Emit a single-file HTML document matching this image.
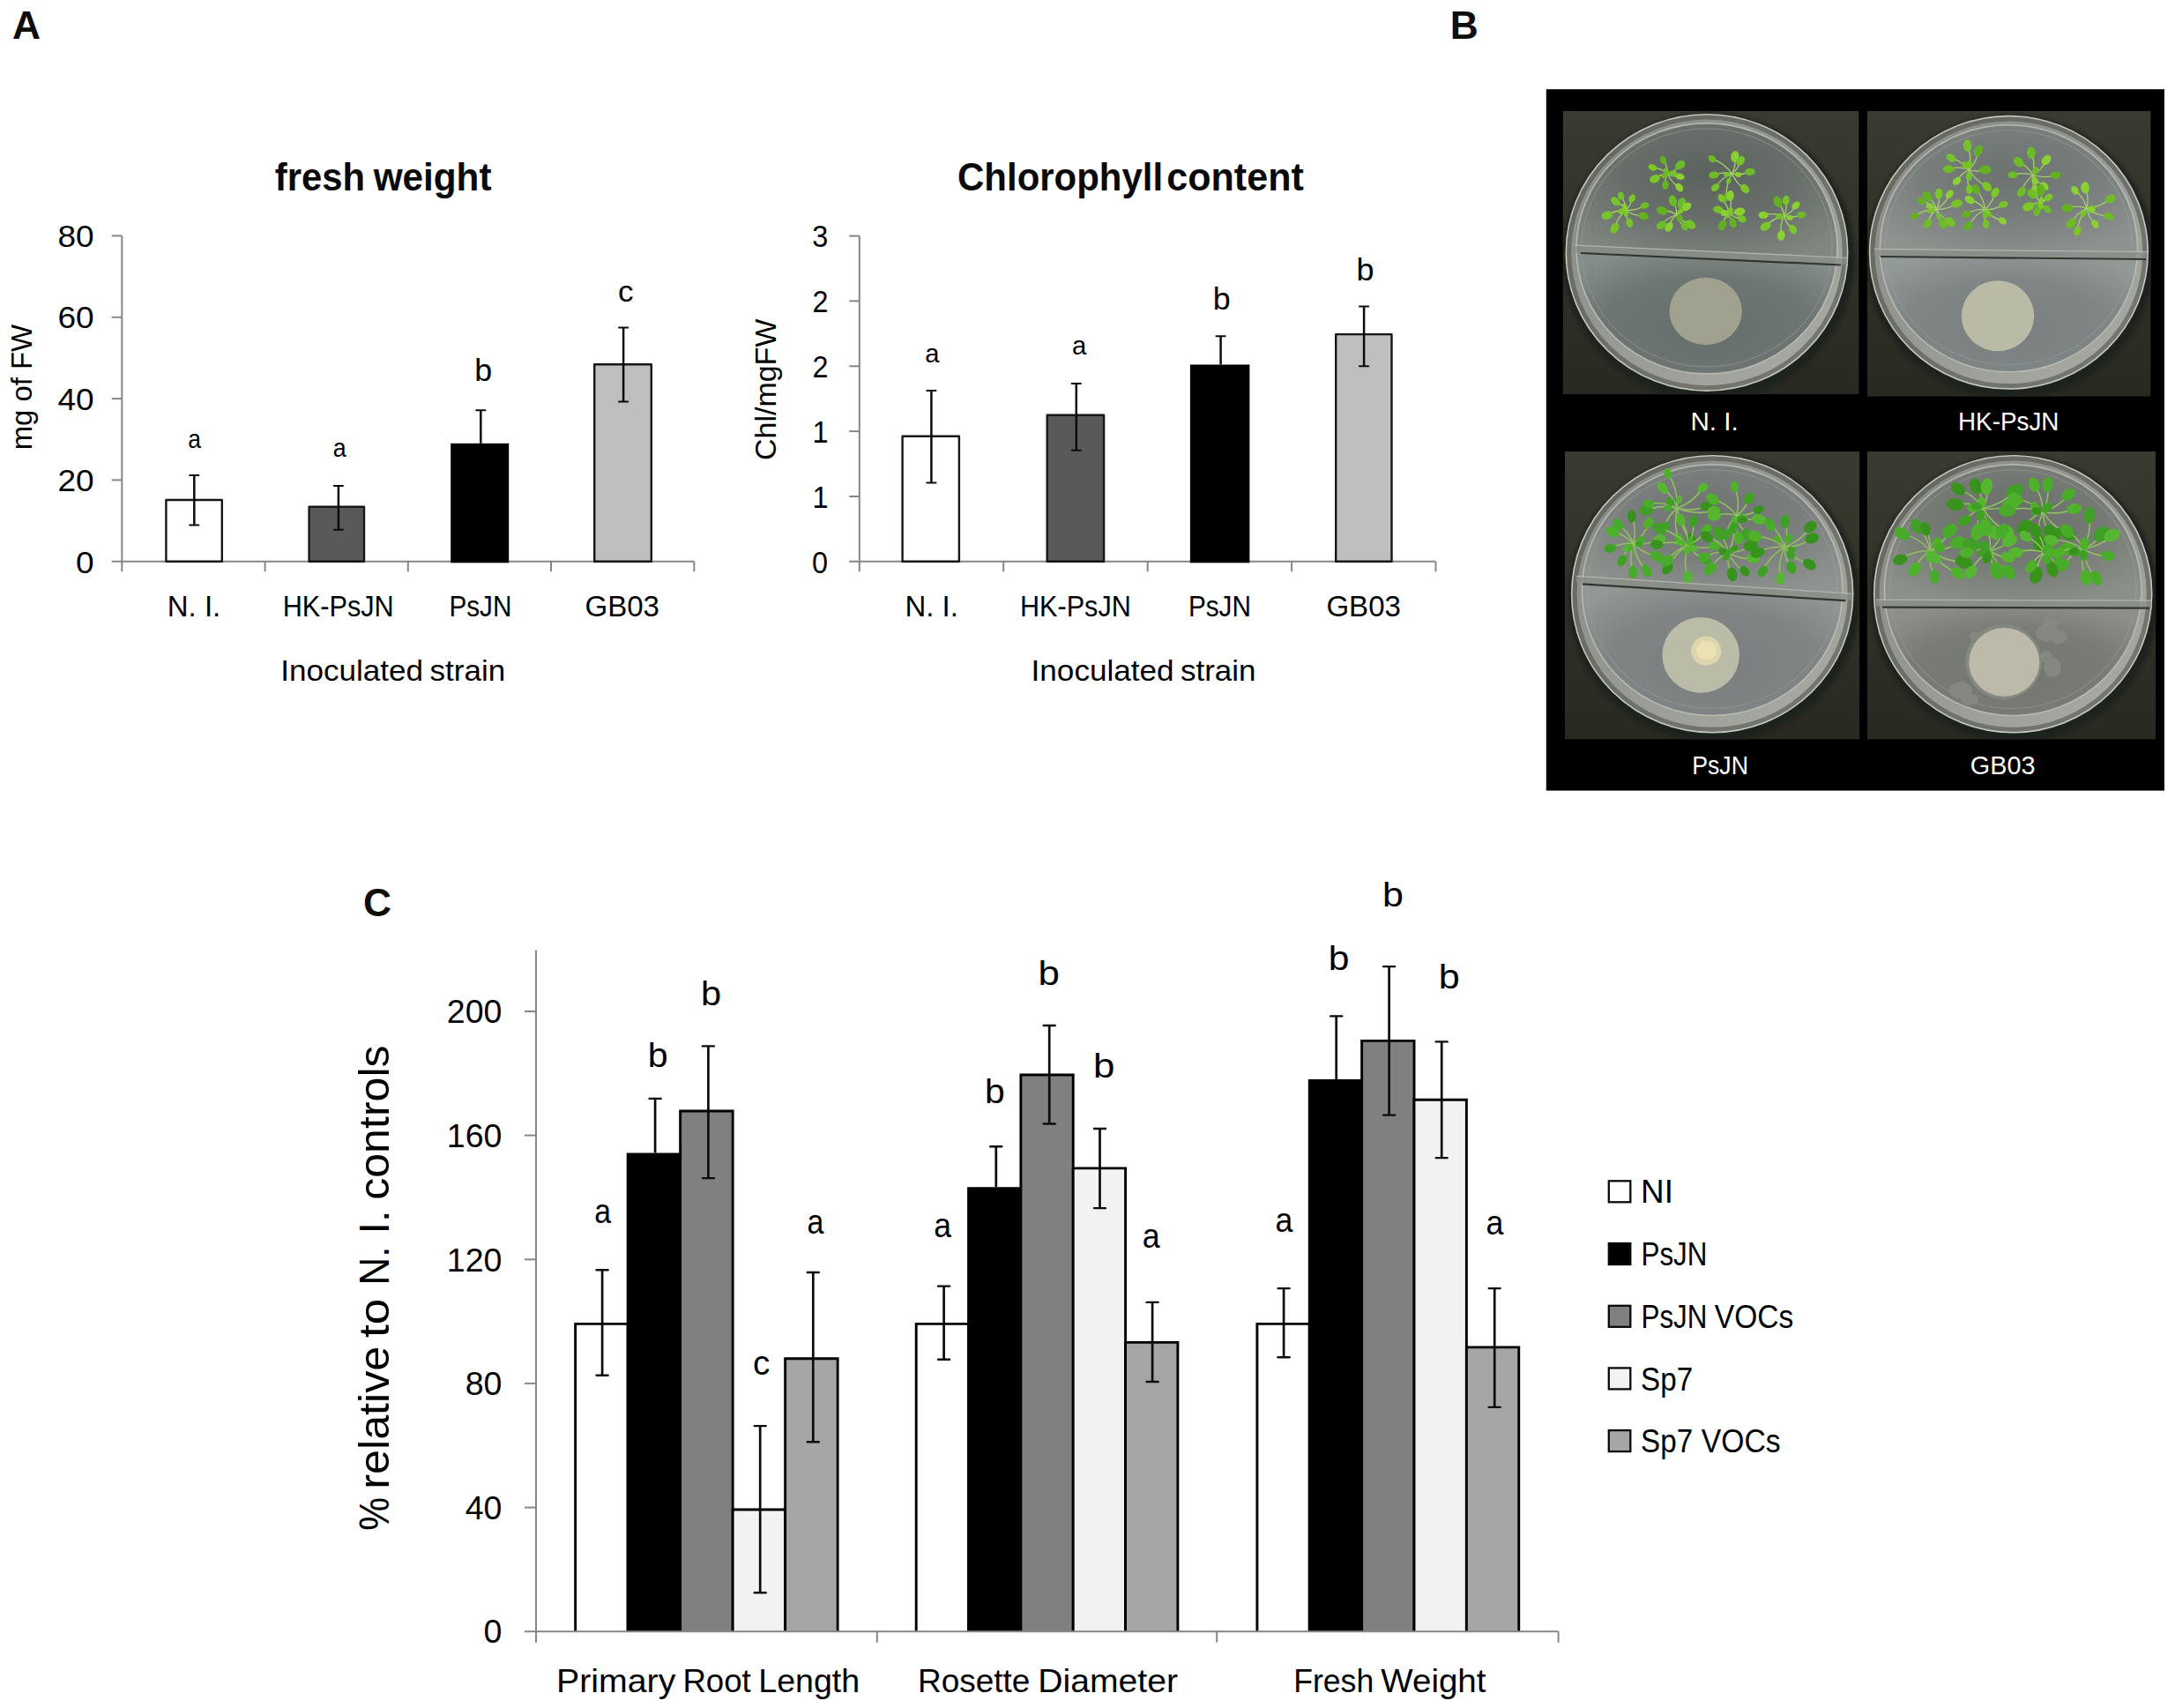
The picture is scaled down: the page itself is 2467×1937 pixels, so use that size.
<!DOCTYPE html>
<html lang="en">
<head>
<meta charset="utf-8">
<title>Figure: plant growth promotion by bacterial volatiles</title>
<style>
html,body{margin:0;padding:0;background:#fff;}
body{width:2467px;height:1937px;overflow:hidden;}
svg{display:block;font-family:'Liberation Sans', sans-serif;}
</style>
</head>
<body>
<svg width="2467" height="1937" viewBox="0 0 2467 1937" font-family='"Liberation Sans", sans-serif'>
<rect width="2467" height="1937" fill="#fff"/>
<text x="13.9" y="43.9" font-size="44.3" font-weight="bold" fill="#100e08" >A</text>
<text x="1644.8" y="43.9" font-size="44.3" font-weight="bold" fill="#100e08" >B</text>
<text x="411.9" y="1038.6" font-size="44.3" font-weight="bold" fill="#100e08" >C</text>
<line x1="138.3" y1="267.4" x2="138.3" y2="648.3" stroke="#868686" stroke-width="2" />
<line x1="126.8" y1="636.8" x2="787.3" y2="636.8" stroke="#868686" stroke-width="2" />
<line x1="126.8" y1="544.4" x2="138.3" y2="544.4" stroke="#868686" stroke-width="2" />
<line x1="126.8" y1="452.1" x2="138.3" y2="452.1" stroke="#868686" stroke-width="2" />
<line x1="126.8" y1="359.8" x2="138.3" y2="359.8" stroke="#868686" stroke-width="2" />
<line x1="126.8" y1="267.4" x2="138.3" y2="267.4" stroke="#868686" stroke-width="2" />
<text x="86.0" y="649.5" font-size="34.8" textLength="20.6" lengthAdjust="spacingAndGlyphs" >0</text>
<text x="65.4" y="557.1" font-size="34.8" textLength="41.2" lengthAdjust="spacingAndGlyphs" >20</text>
<text x="65.4" y="464.8" font-size="34.8" textLength="41.2" lengthAdjust="spacingAndGlyphs" >40</text>
<text x="65.4" y="372.4" font-size="34.8" textLength="41.2" lengthAdjust="spacingAndGlyphs" >60</text>
<text x="65.4" y="280.1" font-size="34.8" textLength="41.2" lengthAdjust="spacingAndGlyphs" >80</text>
<line x1="300.6" y1="636.8" x2="300.6" y2="648.3" stroke="#868686" stroke-width="2" />
<line x1="462.8" y1="636.8" x2="462.8" y2="648.3" stroke="#868686" stroke-width="2" />
<line x1="625.0" y1="636.8" x2="625.0" y2="648.3" stroke="#868686" stroke-width="2" />
<line x1="787.3" y1="636.8" x2="787.3" y2="648.3" stroke="#868686" stroke-width="2" />
<rect x="188.4" y="567.0" width="63.4" height="69.8" fill="#fff" stroke="#161616" stroke-width="2.4" stroke-linejoin="round"/>
<line x1="220.3" y1="539.0" x2="220.3" y2="595.4" stroke="#0c0c0c" stroke-width="2.5" />
<line x1="215.2" y1="539.0" x2="225.4" y2="539.0" stroke="#0c0c0c" stroke-width="2.0" stroke-linecap="round"/>
<line x1="215.2" y1="595.4" x2="225.4" y2="595.4" stroke="#0c0c0c" stroke-width="2.0" stroke-linecap="round"/>
<rect x="350.6" y="574.7" width="62.4" height="62.1" fill="#595959" stroke="#161616" stroke-width="2.4" stroke-linejoin="round"/>
<line x1="383.9" y1="551.0" x2="383.9" y2="600.8" stroke="#0c0c0c" stroke-width="2.5" />
<line x1="378.8" y1="551.0" x2="389.0" y2="551.0" stroke="#0c0c0c" stroke-width="2.0" stroke-linecap="round"/>
<line x1="378.8" y1="600.8" x2="389.0" y2="600.8" stroke="#0c0c0c" stroke-width="2.0" stroke-linecap="round"/>
<rect x="511.2" y="502.8" width="66.0" height="135.5" fill="#000"/>
<line x1="545.3" y1="465.2" x2="545.3" y2="502.8" stroke="#0c0c0c" stroke-width="2.5" />
<line x1="540.2" y1="465.2" x2="550.4" y2="465.2" stroke="#0c0c0c" stroke-width="2.0" stroke-linecap="round"/>
<rect x="674.2" y="413.2" width="64.6" height="223.6" fill="#bfbfbf" stroke="#161616" stroke-width="2.4" stroke-linejoin="round"/>
<line x1="707.1" y1="371.4" x2="707.1" y2="455.4" stroke="#0c0c0c" stroke-width="2.5" />
<line x1="702.0" y1="371.4" x2="712.2" y2="371.4" stroke="#0c0c0c" stroke-width="2.0" stroke-linecap="round"/>
<line x1="702.0" y1="455.4" x2="712.2" y2="455.4" stroke="#0c0c0c" stroke-width="2.0" stroke-linecap="round"/>
<text x="213.2" y="507.9" font-size="28.6" textLength="14.7" lengthAdjust="spacingAndGlyphs" >a</text>
<text x="377.8" y="518.4" font-size="28.6" textLength="14.9" lengthAdjust="spacingAndGlyphs" >a</text>
<text x="538.3" y="432.2" font-size="35.0" textLength="19.9" lengthAdjust="spacingAndGlyphs" >b</text>
<text x="701.0" y="341.6" font-size="34.0" textLength="17.6" lengthAdjust="spacingAndGlyphs" >c</text>
<text x="189.8" y="698.6" font-size="33" textLength="60.5" lengthAdjust="spacingAndGlyphs" >N. I.</text>
<text x="320.7" y="698.6" font-size="33" textLength="126.0" lengthAdjust="spacingAndGlyphs" >HK-PsJN</text>
<text x="509.5" y="698.6" font-size="33" textLength="70.8" lengthAdjust="spacingAndGlyphs" >PsJN</text>
<text x="663.5" y="698.6" font-size="33" textLength="84.5" lengthAdjust="spacingAndGlyphs" >GB03</text>
<text font-size="33"><tspan x="318.17" y="772.1" textLength="161.97" lengthAdjust="spacingAndGlyphs">Inoculated</tspan> <tspan x="487.55" y="772.1" textLength="85.60" lengthAdjust="spacingAndGlyphs">strain</tspan></text>
<text font-size="44.5" font-weight="bold" fill="#0a0a0a"><tspan x="311.79" y="215.8" textLength="102.32" lengthAdjust="spacingAndGlyphs">fresh</tspan> <tspan x="423.63" y="215.8" textLength="133.86" lengthAdjust="spacingAndGlyphs">weight</tspan></text>
<text font-size="33.5" transform="translate(36.4 512.2) rotate(-90)"><tspan x="1.83" y="0" textLength="142.35" lengthAdjust="spacingAndGlyphs">mg of FW</tspan></text>
<line x1="974.8" y1="267.6" x2="974.8" y2="648.3" stroke="#868686" stroke-width="2" />
<line x1="963.3" y1="636.8" x2="1628.5" y2="636.8" stroke="#868686" stroke-width="2" />
<line x1="963.3" y1="563.0" x2="974.8" y2="563.0" stroke="#868686" stroke-width="2" />
<line x1="963.3" y1="489.1" x2="974.8" y2="489.1" stroke="#868686" stroke-width="2" />
<line x1="963.3" y1="415.3" x2="974.8" y2="415.3" stroke="#868686" stroke-width="2" />
<line x1="963.3" y1="341.4" x2="974.8" y2="341.4" stroke="#868686" stroke-width="2" />
<line x1="963.3" y1="267.6" x2="974.8" y2="267.6" stroke="#868686" stroke-width="2" />
<text x="921.1" y="649.5" font-size="34.8" textLength="18.0" lengthAdjust="spacingAndGlyphs" >0</text>
<text x="921.4" y="575.7" font-size="34.8" textLength="18.0" lengthAdjust="spacingAndGlyphs" >1</text>
<text x="921.4" y="501.8" font-size="34.8" textLength="18.0" lengthAdjust="spacingAndGlyphs" >1</text>
<text x="921.5" y="428.0" font-size="34.8" textLength="18.0" lengthAdjust="spacingAndGlyphs" >2</text>
<text x="921.5" y="354.1" font-size="34.8" textLength="18.0" lengthAdjust="spacingAndGlyphs" >2</text>
<text x="921.3" y="280.3" font-size="34.8" textLength="18.0" lengthAdjust="spacingAndGlyphs" >3</text>
<line x1="1138.2" y1="636.8" x2="1138.2" y2="648.3" stroke="#868686" stroke-width="2" />
<line x1="1301.7" y1="636.8" x2="1301.7" y2="648.3" stroke="#868686" stroke-width="2" />
<line x1="1465.1" y1="636.8" x2="1465.1" y2="648.3" stroke="#868686" stroke-width="2" />
<line x1="1628.5" y1="636.8" x2="1628.5" y2="648.3" stroke="#868686" stroke-width="2" />
<rect x="1023.6" y="494.8" width="64.3" height="142.0" fill="#fff" stroke="#161616" stroke-width="2.4" stroke-linejoin="round"/>
<line x1="1056.4" y1="442.9" x2="1056.4" y2="547.4" stroke="#0c0c0c" stroke-width="2.5" />
<line x1="1051.3" y1="442.9" x2="1061.5" y2="442.9" stroke="#0c0c0c" stroke-width="2.0" stroke-linecap="round"/>
<line x1="1051.3" y1="547.4" x2="1061.5" y2="547.4" stroke="#0c0c0c" stroke-width="2.0" stroke-linecap="round"/>
<rect x="1187.7" y="470.8" width="64.4" height="166.0" fill="#595959" stroke="#161616" stroke-width="2.4" stroke-linejoin="round"/>
<line x1="1220.8" y1="434.9" x2="1220.8" y2="510.8" stroke="#0c0c0c" stroke-width="2.5" />
<line x1="1215.7" y1="434.9" x2="1225.9" y2="434.9" stroke="#0c0c0c" stroke-width="2.0" stroke-linecap="round"/>
<line x1="1215.7" y1="510.8" x2="1225.9" y2="510.8" stroke="#0c0c0c" stroke-width="2.0" stroke-linecap="round"/>
<rect x="1349.9" y="413.5" width="67.5" height="224.8" fill="#000"/>
<line x1="1384.6" y1="381.3" x2="1384.6" y2="413.5" stroke="#0c0c0c" stroke-width="2.5" />
<line x1="1379.5" y1="381.3" x2="1389.7" y2="381.3" stroke="#0c0c0c" stroke-width="2.0" stroke-linecap="round"/>
<rect x="1515.2" y="379.1" width="63.3" height="257.7" fill="#bfbfbf" stroke="#161616" stroke-width="2.4" stroke-linejoin="round"/>
<line x1="1547.1" y1="347.6" x2="1547.1" y2="415.2" stroke="#0c0c0c" stroke-width="2.5" />
<line x1="1542.0" y1="347.6" x2="1552.2" y2="347.6" stroke="#0c0c0c" stroke-width="2.0" stroke-linecap="round"/>
<line x1="1542.0" y1="415.2" x2="1552.2" y2="415.2" stroke="#0c0c0c" stroke-width="2.0" stroke-linecap="round"/>
<text x="1049.2" y="411.3" font-size="28.6" textLength="16.2" lengthAdjust="spacingAndGlyphs" >a</text>
<text x="1215.9" y="401.8" font-size="28.6" textLength="16.3" lengthAdjust="spacingAndGlyphs" >a</text>
<text x="1375.7" y="350.8" font-size="35.0" textLength="19.9" lengthAdjust="spacingAndGlyphs" >b</text>
<text x="1538.6" y="318.0" font-size="35.0" textLength="20.0" lengthAdjust="spacingAndGlyphs" >b</text>
<text x="1026.4" y="698.6" font-size="33" textLength="60.5" lengthAdjust="spacingAndGlyphs" >N. I.</text>
<text x="1157.0" y="698.6" font-size="33" textLength="125.8" lengthAdjust="spacingAndGlyphs" >HK-PsJN</text>
<text x="1347.9" y="698.6" font-size="33" textLength="71.1" lengthAdjust="spacingAndGlyphs" >PsJN</text>
<text x="1504.4" y="698.6" font-size="33" textLength="84.5" lengthAdjust="spacingAndGlyphs" >GB03</text>
<text font-size="33"><tspan x="1169.57" y="772.1" textLength="162.07" lengthAdjust="spacingAndGlyphs">Inoculated</tspan> <tspan x="1338.96" y="772.1" textLength="85.49" lengthAdjust="spacingAndGlyphs">strain</tspan></text>
<text font-size="44.5" font-weight="bold" fill="#0a0a0a"><tspan x="1086.08" y="215.8" textLength="232.96" lengthAdjust="spacingAndGlyphs">Chlorophyll</tspan> <tspan x="1323.32" y="215.8" textLength="155.49" lengthAdjust="spacingAndGlyphs">content</tspan></text>
<text font-size="33.5" transform="translate(879.7 524.3) rotate(-90)"><tspan x="2.30" y="0" textLength="160.41" lengthAdjust="spacingAndGlyphs">Chl/mgFW</tspan></text>
<defs>
<radialGradient id="gUp" cx="50%" cy="40%" r="62%"><stop offset="0" stop-color="#70787c"/><stop offset="0.5" stop-color="#858c8f"/><stop offset="1" stop-color="#a1a6a7"/></radialGradient>
<radialGradient id="gLo" cx="50%" cy="55%" r="62%"><stop offset="0" stop-color="#7a8489"/><stop offset="0.6" stop-color="#838d92"/><stop offset="1" stop-color="#99a1a3"/></radialGradient>
<radialGradient id="gUp2" cx="50%" cy="40%" r="62%"><stop offset="0" stop-color="#7b8186"/><stop offset="0.5" stop-color="#8b9095"/><stop offset="1" stop-color="#a4a8ab"/></radialGradient>
<radialGradient id="gLo2" cx="50%" cy="55%" r="62%"><stop offset="0" stop-color="#83888e"/><stop offset="0.6" stop-color="#858a90"/><stop offset="1" stop-color="#989da2"/></radialGradient>
<linearGradient id="gRim" x1="0" y1="0" x2="1" y2="1"><stop offset="0" stop-color="#858882"/><stop offset="0.5" stop-color="#979a94"/><stop offset="1" stop-color="#abada6"/></linearGradient>
<linearGradient id="gBg" x1="0" y1="0" x2="0" y2="1"><stop offset="0" stop-color="#393a30"/><stop offset="1" stop-color="#282920"/></linearGradient>
<filter id="soft" x="-5%" y="-5%" width="110%" height="110%"><feGaussianBlur stdDeviation="0.6"/></filter>
<filter id="soft2" x="-20%" y="-20%" width="140%" height="140%"><feGaussianBlur stdDeviation="2.2"/></filter>
</defs>
<rect x="1753.8" y="101.2" width="701.2" height="795.4" fill="#000"/>
<clipPath id="cpa"><rect x="1772.6" y="125.8" width="336.0" height="321.4"/></clipPath>
<radialGradient id="gUa" cx="50%" cy="40%" r="62%"><stop offset="0" stop-color="#5c635f"/><stop offset="0.5" stop-color="#686f6a"/><stop offset="1" stop-color="#808680"/></radialGradient>
<radialGradient id="gLa" cx="50%" cy="55%" r="62%"><stop offset="0" stop-color="#666e6d"/><stop offset="0.6" stop-color="#6e7674"/><stop offset="1" stop-color="#848d8a"/></radialGradient>
<g clip-path="url(#cpa)">
<rect x="1772.6" y="125.8" width="336.0" height="321.4" fill="url(#gBg)"/>
<ellipse cx="1938.0" cy="291.4" rx="165.5" ry="162.5" fill="#1f201d" filter="url(#soft2)"/>
<ellipse cx="1936.0" cy="286.4" rx="159.7" ry="156.7" fill="url(#gRim)" stroke="#c6c8bd" stroke-width="1.6"/>
<ellipse cx="1936.0" cy="286.4" rx="156.3" ry="153.3" fill="none" stroke="#4a4d45" stroke-width="5" opacity="0.55"/>
<clipPath id="cia"><ellipse cx="1936.0" cy="281.9" rx="148.0" ry="142.0"/></clipPath>
<g clip-path="url(#cia)">
<polygon points="1775.5,128.89999999999998 2096.5,128.89999999999998 2096.5,300.9 1775.5,286.2" fill="url(#gUa)"/>
<polygon points="1775.5,286.2 2096.5,300.9 2096.5,443.9 1775.5,443.9" fill="url(#gLa)"/>
</g>
<ellipse cx="1936.0" cy="281.9" rx="148.0" ry="142.0" fill="none" stroke="#bdc0b6" stroke-width="1.6" opacity="0.85"/>
<ellipse cx="1936.0" cy="280.9" rx="142.0" ry="135.0" fill="none" stroke="#a0a49c" stroke-width="1.1" opacity="0.45"/>
<clipPath id="coa"><ellipse cx="1936.0" cy="286.4" rx="159.5" ry="156.5"/></clipPath><g clip-path="url(#coa)">
<line x1="1786" y1="282.2" x2="2095" y2="296.3" stroke="#8b8f8a" stroke-width="7" opacity="0.75"/>
<line x1="1786" y1="278.2" x2="2095" y2="292.3" stroke="#b9bcb4" stroke-width="1.3" opacity="0.85"/>
<line x1="1793" y1="287.0" x2="2088" y2="300.5" stroke="#33362f" stroke-width="2.2"/>
</g>

<ellipse cx="1934.7" cy="353.0" rx="41.2" ry="38.2" fill="#a0a28f"/>

<g filter="url(#soft)">
<path d="M1844.0 238.5Q1831.9 238.1 1822.8 244.3" stroke="#a6cf6c" stroke-width="1.3" fill="none"/><path d="M1844.0 238.5Q1839.6 231.3 1832.5 228.4" stroke="#a6cf6c" stroke-width="1.3" fill="none"/><path d="M1844.0 238.5Q1843.8 229.0 1838.6 222.1" stroke="#a6cf6c" stroke-width="1.3" fill="none"/><path d="M1844.0 238.5Q1850.0 232.6 1851.2 225.0" stroke="#a6cf6c" stroke-width="1.3" fill="none"/><path d="M1844.0 238.5Q1856.2 239.1 1865.5 233.0" stroke="#a6cf6c" stroke-width="1.3" fill="none"/><path d="M1844.0 238.5Q1853.5 245.1 1864.1 244.9" stroke="#a6cf6c" stroke-width="1.3" fill="none"/><path d="M1844.0 238.5Q1844.0 246.6 1848.3 252.7" stroke="#a6cf6c" stroke-width="1.3" fill="none"/><path d="M1844.0 238.5Q1834.1 247.1 1831.4 258.7" stroke="#a6cf6c" stroke-width="1.3" fill="none"/><ellipse cx="1822.8" cy="244.3" rx="6.5" ry="4.6" fill="#76c22c" transform="rotate(165 1822.8 244.3)"/><ellipse cx="1832.5" cy="228.4" rx="6.0" ry="4.2" fill="#76c22c" transform="rotate(221 1832.5 228.4)"/><ellipse cx="1838.6" cy="222.1" rx="4.8" ry="3.4" fill="#76c22c" transform="rotate(252 1838.6 222.1)"/><ellipse cx="1851.2" cy="225.0" rx="4.9" ry="3.5" fill="#7cc62a" transform="rotate(298 1851.2 225.0)"/><ellipse cx="1865.5" cy="233.0" rx="5.1" ry="3.6" fill="#6dbb26" transform="rotate(346 1865.5 233.0)"/><ellipse cx="1864.1" cy="244.9" rx="5.9" ry="4.2" fill="#63b023" transform="rotate(378 1864.1 244.9)"/><ellipse cx="1848.3" cy="252.7" rx="5.4" ry="3.8" fill="#76c22c" transform="rotate(433 1848.3 252.7)"/><ellipse cx="1831.4" cy="258.7" rx="6.3" ry="4.5" fill="#76c22c" transform="rotate(482 1831.4 258.7)"/><ellipse cx="1844.4" cy="242.8" rx="3.3" ry="2.4" fill="#7cc62a" transform="rotate(84 1844.4 242.8)"/><ellipse cx="1839.9" cy="239.6" rx="4.6" ry="3.4" fill="#7cc62a" transform="rotate(165 1839.9 239.6)"/><ellipse cx="1842.8" cy="234.3" rx="3.6" ry="2.6" fill="#8ad033" transform="rotate(255 1842.8 234.3)"/>
<path d="M1891.5 197.0Q1898.4 200.9 1905.5 200.2" stroke="#a6cf6c" stroke-width="1.3" fill="none"/><path d="M1891.5 197.0Q1895.9 207.3 1904.7 212.5" stroke="#a6cf6c" stroke-width="1.3" fill="none"/><path d="M1891.5 197.0Q1888.1 203.3 1889.0 209.8" stroke="#a6cf6c" stroke-width="1.3" fill="none"/><path d="M1891.5 197.0Q1882.9 197.7 1876.9 202.8" stroke="#a6cf6c" stroke-width="1.3" fill="none"/><path d="M1891.5 197.0Q1883.6 190.5 1874.4 189.9" stroke="#a6cf6c" stroke-width="1.3" fill="none"/><path d="M1891.5 197.0Q1891.4 188.1 1886.6 181.6" stroke="#a6cf6c" stroke-width="1.3" fill="none"/><path d="M1891.5 197.0Q1900.6 194.1 1905.8 187.1" stroke="#a6cf6c" stroke-width="1.3" fill="none"/><ellipse cx="1905.5" cy="200.2" rx="5.2" ry="3.6" fill="#8ad033" transform="rotate(13 1905.5 200.2)"/><ellipse cx="1904.7" cy="212.5" rx="5.4" ry="3.8" fill="#8ad033" transform="rotate(50 1904.7 212.5)"/><ellipse cx="1889.0" cy="209.8" rx="5.4" ry="3.8" fill="#63b023" transform="rotate(101 1889.0 209.8)"/><ellipse cx="1876.9" cy="202.8" rx="6.2" ry="4.4" fill="#7cc62a" transform="rotate(158 1876.9 202.8)"/><ellipse cx="1874.4" cy="189.9" rx="5.0" ry="3.6" fill="#7cc62a" transform="rotate(203 1874.4 189.9)"/><ellipse cx="1886.6" cy="181.6" rx="4.8" ry="3.4" fill="#63b023" transform="rotate(252 1886.6 181.6)"/><ellipse cx="1905.8" cy="187.1" rx="6.2" ry="4.4" fill="#6dbb26" transform="rotate(325 1905.8 187.1)"/><ellipse cx="1890.1" cy="194.0" rx="3.9" ry="2.9" fill="#6dbb26" transform="rotate(245 1890.1 194.0)"/><ellipse cx="1887.9" cy="199.0" rx="3.8" ry="2.8" fill="#6dbb26" transform="rotate(151 1887.9 199.0)"/><ellipse cx="1897.7" cy="197.0" rx="4.6" ry="3.4" fill="#76c22c" transform="rotate(0 1897.7 197.0)"/>
<path d="M1901.5 243.5Q1894.8 249.3 1893.0 257.3" stroke="#a6cf6c" stroke-width="1.3" fill="none"/><path d="M1901.5 243.5Q1890.5 247.0 1884.3 255.4" stroke="#a6cf6c" stroke-width="1.3" fill="none"/><path d="M1901.5 243.5Q1893.8 238.4 1885.3 238.8" stroke="#a6cf6c" stroke-width="1.3" fill="none"/><path d="M1901.5 243.5Q1902.0 234.4 1897.4 227.5" stroke="#a6cf6c" stroke-width="1.3" fill="none"/><path d="M1901.5 243.5Q1906.7 237.5 1907.4 230.3" stroke="#a6cf6c" stroke-width="1.3" fill="none"/><path d="M1901.5 243.5Q1909.0 240.6 1913.0 234.4" stroke="#a6cf6c" stroke-width="1.3" fill="none"/><path d="M1901.5 243.5Q1907.9 251.8 1917.2 254.5" stroke="#a6cf6c" stroke-width="1.3" fill="none"/><path d="M1901.5 243.5Q1904.2 251.9 1910.6 256.7" stroke="#a6cf6c" stroke-width="1.3" fill="none"/><ellipse cx="1893.0" cy="257.3" rx="5.9" ry="4.2" fill="#8ad033" transform="rotate(122 1893.0 257.3)"/><ellipse cx="1884.3" cy="255.4" rx="5.9" ry="4.2" fill="#6dbb26" transform="rotate(145 1884.3 255.4)"/><ellipse cx="1885.3" cy="238.8" rx="6.5" ry="4.6" fill="#63b023" transform="rotate(196 1885.3 238.8)"/><ellipse cx="1897.4" cy="227.5" rx="6.3" ry="4.5" fill="#6dbb26" transform="rotate(256 1897.4 227.5)"/><ellipse cx="1907.4" cy="230.3" rx="6.4" ry="4.5" fill="#6dbb26" transform="rotate(294 1907.4 230.3)"/><ellipse cx="1913.0" cy="234.4" rx="5.9" ry="4.2" fill="#8ad033" transform="rotate(322 1913.0 234.4)"/><ellipse cx="1917.2" cy="254.5" rx="6.4" ry="4.6" fill="#76c22c" transform="rotate(395 1917.2 254.5)"/><ellipse cx="1910.6" cy="256.7" rx="5.2" ry="3.7" fill="#6dbb26" transform="rotate(415 1910.6 256.7)"/><ellipse cx="1904.6" cy="248.2" rx="4.0" ry="3.0" fill="#63b023" transform="rotate(57 1904.6 248.2)"/><ellipse cx="1905.6" cy="239.8" rx="3.8" ry="2.8" fill="#7cc62a" transform="rotate(317 1905.6 239.8)"/><ellipse cx="1905.5" cy="246.7" rx="3.6" ry="2.7" fill="#63b023" transform="rotate(39 1905.5 246.7)"/>
<path d="M1964.5 197.0Q1957.0 210.0 1958.4 223.6" stroke="#a6cf6c" stroke-width="1.3" fill="none"/><path d="M1964.5 197.0Q1952.0 202.1 1945.6 212.6" stroke="#a6cf6c" stroke-width="1.3" fill="none"/><path d="M1964.5 197.0Q1953.4 194.4 1943.9 198.5" stroke="#a6cf6c" stroke-width="1.3" fill="none"/><path d="M1964.5 197.0Q1955.5 184.5 1942.1 180.1" stroke="#a6cf6c" stroke-width="1.3" fill="none"/><path d="M1964.5 197.0Q1969.4 187.3 1967.8 177.5" stroke="#a6cf6c" stroke-width="1.3" fill="none"/><path d="M1964.5 197.0Q1972.0 190.9 1974.2 182.4" stroke="#a6cf6c" stroke-width="1.3" fill="none"/><path d="M1964.5 197.0Q1975.6 199.1 1984.9 194.8" stroke="#a6cf6c" stroke-width="1.3" fill="none"/><path d="M1964.5 197.0Q1969.4 208.4 1979.2 214.1" stroke="#a6cf6c" stroke-width="1.3" fill="none"/><ellipse cx="1958.4" cy="223.6" rx="4.9" ry="3.5" fill="#6dbb26" transform="rotate(103 1958.4 223.6)"/><ellipse cx="1945.6" cy="212.6" rx="5.3" ry="3.8" fill="#76c22c" transform="rotate(141 1945.6 212.6)"/><ellipse cx="1943.9" cy="198.5" rx="5.8" ry="4.1" fill="#6dbb26" transform="rotate(176 1943.9 198.5)"/><ellipse cx="1942.1" cy="180.1" rx="5.0" ry="3.5" fill="#6dbb26" transform="rotate(217 1942.1 180.1)"/><ellipse cx="1967.8" cy="177.5" rx="6.4" ry="4.5" fill="#8ad033" transform="rotate(280 1967.8 177.5)"/><ellipse cx="1974.2" cy="182.4" rx="6.0" ry="4.2" fill="#76c22c" transform="rotate(304 1974.2 182.4)"/><ellipse cx="1984.9" cy="194.8" rx="5.9" ry="4.1" fill="#6dbb26" transform="rotate(354 1984.9 194.8)"/><ellipse cx="1979.2" cy="214.1" rx="5.9" ry="4.2" fill="#7cc62a" transform="rotate(409 1979.2 214.1)"/><ellipse cx="1959.0" cy="197.9" rx="3.7" ry="2.7" fill="#7cc62a" transform="rotate(171 1959.0 197.9)"/><ellipse cx="1971.6" cy="198.0" rx="3.9" ry="2.9" fill="#8ad033" transform="rotate(8 1971.6 198.0)"/><ellipse cx="1960.6" cy="205.4" rx="3.4" ry="2.5" fill="#76c22c" transform="rotate(115 1960.6 205.4)"/>
<path d="M1961.0 241.5Q1954.9 247.6 1953.7 255.5" stroke="#a6cf6c" stroke-width="1.3" fill="none"/><path d="M1961.0 241.5Q1955.3 237.5 1949.0 237.7" stroke="#a6cf6c" stroke-width="1.3" fill="none"/><path d="M1961.0 241.5Q1959.2 231.3 1952.4 224.7" stroke="#a6cf6c" stroke-width="1.3" fill="none"/><path d="M1961.0 241.5Q1965.0 231.5 1962.6 222.0" stroke="#a6cf6c" stroke-width="1.3" fill="none"/><path d="M1961.0 241.5Q1967.6 242.7 1973.1 240.0" stroke="#a6cf6c" stroke-width="1.3" fill="none"/><path d="M1961.0 241.5Q1967.6 247.3 1975.6 248.1" stroke="#a6cf6c" stroke-width="1.3" fill="none"/><path d="M1961.0 241.5Q1961.6 248.1 1965.6 252.7" stroke="#a6cf6c" stroke-width="1.3" fill="none"/><ellipse cx="1953.7" cy="255.5" rx="6.0" ry="4.2" fill="#63b023" transform="rotate(118 1953.7 255.5)"/><ellipse cx="1949.0" cy="237.7" rx="5.9" ry="4.1" fill="#76c22c" transform="rotate(198 1949.0 237.7)"/><ellipse cx="1952.4" cy="224.7" rx="4.9" ry="3.5" fill="#7cc62a" transform="rotate(243 1952.4 224.7)"/><ellipse cx="1962.6" cy="222.0" rx="6.0" ry="4.2" fill="#8ad033" transform="rotate(275 1962.6 222.0)"/><ellipse cx="1973.1" cy="240.0" rx="6.4" ry="4.5" fill="#8ad033" transform="rotate(353 1973.1 240.0)"/><ellipse cx="1975.6" cy="248.1" rx="5.5" ry="3.9" fill="#76c22c" transform="rotate(384 1975.6 248.1)"/><ellipse cx="1965.6" cy="252.7" rx="5.6" ry="4.0" fill="#63b023" transform="rotate(428 1965.6 252.7)"/><ellipse cx="1962.4" cy="239.2" rx="4.3" ry="3.1" fill="#7cc62a" transform="rotate(302 1962.4 239.2)"/><ellipse cx="1960.0" cy="244.1" rx="3.3" ry="2.4" fill="#7cc62a" transform="rotate(112 1960.0 244.1)"/><ellipse cx="1956.1" cy="241.6" rx="4.5" ry="3.3" fill="#8ad033" transform="rotate(179 1956.1 241.6)"/>
<path d="M2023.5 245.0Q2032.6 240.9 2037.0 233.0" stroke="#a6cf6c" stroke-width="1.3" fill="none"/><path d="M2023.5 245.0Q2034.1 247.5 2043.3 243.7" stroke="#a6cf6c" stroke-width="1.3" fill="none"/><path d="M2023.5 245.0Q2026.4 254.6 2033.6 260.1" stroke="#a6cf6c" stroke-width="1.3" fill="none"/><path d="M2023.5 245.0Q2018.3 256.0 2020.4 267.0" stroke="#a6cf6c" stroke-width="1.3" fill="none"/><path d="M2023.5 245.0Q2010.6 247.8 2002.6 256.7" stroke="#a6cf6c" stroke-width="1.3" fill="none"/><path d="M2023.5 245.0Q2011.4 240.7 2000.1 244.0" stroke="#a6cf6c" stroke-width="1.3" fill="none"/><path d="M2023.5 245.0Q2022.4 235.3 2016.4 228.8" stroke="#a6cf6c" stroke-width="1.3" fill="none"/><path d="M2023.5 245.0Q2027.6 236.1 2025.8 227.3" stroke="#a6cf6c" stroke-width="1.3" fill="none"/><ellipse cx="2037.0" cy="233.0" rx="5.2" ry="3.7" fill="#8ad033" transform="rotate(318 2037.0 233.0)"/><ellipse cx="2043.3" cy="243.7" rx="5.2" ry="3.7" fill="#6dbb26" transform="rotate(356 2043.3 243.7)"/><ellipse cx="2033.6" cy="260.1" rx="5.7" ry="4.0" fill="#7cc62a" transform="rotate(416 2033.6 260.1)"/><ellipse cx="2020.4" cy="267.0" rx="6.1" ry="4.3" fill="#8ad033" transform="rotate(458 2020.4 267.0)"/><ellipse cx="2002.6" cy="256.7" rx="6.3" ry="4.5" fill="#7cc62a" transform="rotate(511 2002.6 256.7)"/><ellipse cx="2000.1" cy="244.0" rx="5.6" ry="4.0" fill="#8ad033" transform="rotate(542 2000.1 244.0)"/><ellipse cx="2016.4" cy="228.8" rx="6.5" ry="4.6" fill="#63b023" transform="rotate(606 2016.4 228.8)"/><ellipse cx="2025.8" cy="227.3" rx="5.5" ry="3.9" fill="#76c22c" transform="rotate(637 2025.8 227.3)"/><ellipse cx="2018.7" cy="245.2" rx="4.4" ry="3.2" fill="#76c22c" transform="rotate(178 2018.7 245.2)"/><ellipse cx="2020.1" cy="246.0" rx="3.3" ry="2.5" fill="#76c22c" transform="rotate(163 2020.1 246.0)"/><ellipse cx="2030.1" cy="246.8" rx="4.0" ry="3.0" fill="#8ad033" transform="rotate(15 2030.1 246.8)"/>
</g>
</g>
<clipPath id="cpb"><rect x="2117.8" y="125.8" width="321.8" height="324.0"/></clipPath>
<radialGradient id="gUb" cx="50%" cy="40%" r="62%"><stop offset="0" stop-color="#6c7270"/><stop offset="0.5" stop-color="#787e7c"/><stop offset="1" stop-color="#8e9390"/></radialGradient>
<radialGradient id="gLb" cx="50%" cy="55%" r="62%"><stop offset="0" stop-color="#7a807f"/><stop offset="0.6" stop-color="#808685"/><stop offset="1" stop-color="#939997"/></radialGradient>
<g clip-path="url(#cpb)">
<rect x="2117.8" y="125.8" width="321.8" height="324.0" fill="url(#gBg)"/>
<ellipse cx="2280.4" cy="291.3" rx="163.6" ry="160.5" fill="#1f201d" filter="url(#soft2)"/>
<ellipse cx="2278.4" cy="286.3" rx="157.79999999999998" ry="154.7" fill="url(#gRim)" stroke="#c6c8bd" stroke-width="1.6"/>
<ellipse cx="2278.4" cy="286.3" rx="154.4" ry="151.3" fill="none" stroke="#4a4d45" stroke-width="5" opacity="0.55"/>
<clipPath id="cib"><ellipse cx="2278.4" cy="281.8" rx="146.1" ry="140.0"/></clipPath>
<g clip-path="url(#cib)">
<polygon points="2119.8,130.8 2437.0,130.8 2437.0,294.0 2119.8,290.9" fill="url(#gUb)"/>
<polygon points="2119.8,290.9 2437.0,294.0 2437.0,441.8 2119.8,441.8" fill="url(#gLb)"/>
</g>
<ellipse cx="2278.4" cy="281.8" rx="146.1" ry="140.0" fill="none" stroke="#bdc0b6" stroke-width="1.6" opacity="0.85"/>
<ellipse cx="2278.4" cy="280.8" rx="140.1" ry="133.0" fill="none" stroke="#a0a49c" stroke-width="1.1" opacity="0.45"/>
<clipPath id="cob"><ellipse cx="2278.4" cy="286.3" rx="157.6" ry="154.5"/></clipPath><g clip-path="url(#cob)">
<line x1="2126" y1="286.4" x2="2441" y2="289.6" stroke="#8b8f8a" stroke-width="7" opacity="0.75"/>
<line x1="2126" y1="282.4" x2="2441" y2="285.6" stroke="#b9bcb4" stroke-width="1.3" opacity="0.85"/>
<line x1="2133" y1="291.0" x2="2434" y2="294.0" stroke="#33362f" stroke-width="2.2"/>
</g>

<ellipse cx="2266.0" cy="358.2" rx="41.2" ry="40.0" fill="#babba7"/>

<g filter="url(#soft)">
<path d="M2196.5 237.5Q2193.6 228.0 2186.3 222.6" stroke="#a6cf6c" stroke-width="1.3" fill="none"/><path d="M2196.5 237.5Q2200.7 228.5 2199.1 219.7" stroke="#a6cf6c" stroke-width="1.3" fill="none"/><path d="M2196.5 237.5Q2207.1 230.8 2211.3 220.2" stroke="#a6cf6c" stroke-width="1.3" fill="none"/><path d="M2196.5 237.5Q2209.7 237.7 2219.5 230.8" stroke="#a6cf6c" stroke-width="1.3" fill="none"/><path d="M2196.5 237.5Q2202.4 247.4 2212.0 251.6" stroke="#a6cf6c" stroke-width="1.3" fill="none"/><path d="M2196.5 237.5Q2197.6 247.2 2203.7 253.7" stroke="#a6cf6c" stroke-width="1.3" fill="none"/><path d="M2196.5 237.5Q2188.5 244.3 2186.3 253.5" stroke="#a6cf6c" stroke-width="1.3" fill="none"/><path d="M2196.5 237.5Q2182.2 237.4 2171.6 245.0" stroke="#a6cf6c" stroke-width="1.3" fill="none"/><path d="M2196.5 237.5Q2189.0 229.7 2179.3 227.9" stroke="#a6cf6c" stroke-width="1.3" fill="none"/><ellipse cx="2186.3" cy="222.6" rx="6.4" ry="4.5" fill="#63b023" transform="rotate(236 2186.3 222.6)"/><ellipse cx="2199.1" cy="219.7" rx="6.1" ry="4.3" fill="#7cc62a" transform="rotate(278 2199.1 219.7)"/><ellipse cx="2211.3" cy="220.2" rx="5.4" ry="3.8" fill="#8ad033" transform="rotate(311 2211.3 220.2)"/><ellipse cx="2219.5" cy="230.8" rx="6.5" ry="4.6" fill="#76c22c" transform="rotate(344 2219.5 230.8)"/><ellipse cx="2212.0" cy="251.6" rx="6.4" ry="4.5" fill="#76c22c" transform="rotate(402 2212.0 251.6)"/><ellipse cx="2203.7" cy="253.7" rx="6.0" ry="4.3" fill="#6dbb26" transform="rotate(426 2203.7 253.7)"/><ellipse cx="2186.3" cy="253.5" rx="5.8" ry="4.1" fill="#6dbb26" transform="rotate(483 2186.3 253.5)"/><ellipse cx="2171.6" cy="245.0" rx="5.2" ry="3.7" fill="#63b023" transform="rotate(523 2171.6 245.0)"/><ellipse cx="2179.3" cy="227.9" rx="5.3" ry="3.7" fill="#63b023" transform="rotate(569 2179.3 227.9)"/><ellipse cx="2199.2" cy="245.4" rx="3.5" ry="2.6" fill="#76c22c" transform="rotate(71 2199.2 245.4)"/><ellipse cx="2189.0" cy="234.0" rx="4.5" ry="3.4" fill="#8ad033" transform="rotate(205 2189.0 234.0)"/><ellipse cx="2189.7" cy="239.1" rx="3.7" ry="2.8" fill="#7cc62a" transform="rotate(167 2189.7 239.1)"/>
<path d="M2233.5 192.5Q2230.0 204.2 2233.7 214.7" stroke="#a6cf6c" stroke-width="1.3" fill="none"/><path d="M2233.5 192.5Q2224.1 197.0 2219.6 205.4" stroke="#a6cf6c" stroke-width="1.3" fill="none"/><path d="M2233.5 192.5Q2221.4 188.3 2210.2 191.7" stroke="#a6cf6c" stroke-width="1.3" fill="none"/><path d="M2233.5 192.5Q2224.8 182.1 2212.9 179.1" stroke="#a6cf6c" stroke-width="1.3" fill="none"/><path d="M2233.5 192.5Q2236.9 177.9 2231.6 165.3" stroke="#a6cf6c" stroke-width="1.3" fill="none"/><path d="M2233.5 192.5Q2242.5 182.9 2243.9 171.1" stroke="#a6cf6c" stroke-width="1.3" fill="none"/><path d="M2233.5 192.5Q2243.1 195.5 2251.8 192.5" stroke="#a6cf6c" stroke-width="1.3" fill="none"/><path d="M2233.5 192.5Q2241.0 205.7 2253.7 211.5" stroke="#a6cf6c" stroke-width="1.3" fill="none"/><ellipse cx="2233.7" cy="214.7" rx="5.2" ry="3.7" fill="#7cc62a" transform="rotate(90 2233.7 214.7)"/><ellipse cx="2219.6" cy="205.4" rx="5.4" ry="3.8" fill="#8ad033" transform="rotate(137 2219.6 205.4)"/><ellipse cx="2210.2" cy="191.7" rx="6.4" ry="4.5" fill="#6dbb26" transform="rotate(182 2210.2 191.7)"/><ellipse cx="2212.9" cy="179.1" rx="5.9" ry="4.2" fill="#76c22c" transform="rotate(213 2212.9 179.1)"/><ellipse cx="2231.6" cy="165.3" rx="6.8" ry="4.8" fill="#76c22c" transform="rotate(266 2231.6 165.3)"/><ellipse cx="2243.9" cy="171.1" rx="6.7" ry="4.7" fill="#63b023" transform="rotate(296 2243.9 171.1)"/><ellipse cx="2251.8" cy="192.5" rx="6.9" ry="4.9" fill="#63b023" transform="rotate(360 2251.8 192.5)"/><ellipse cx="2253.7" cy="211.5" rx="6.2" ry="4.4" fill="#7cc62a" transform="rotate(403 2253.7 211.5)"/><ellipse cx="2233.8" cy="186.3" rx="4.2" ry="3.1" fill="#76c22c" transform="rotate(273 2233.8 186.3)"/><ellipse cx="2229.2" cy="187.3" rx="4.6" ry="3.4" fill="#76c22c" transform="rotate(230 2229.2 187.3)"/><ellipse cx="2233.2" cy="200.1" rx="4.8" ry="3.5" fill="#76c22c" transform="rotate(92 2233.2 200.1)"/>
<path d="M2251.5 237.5Q2249.4 246.3 2252.6 254.0" stroke="#a6cf6c" stroke-width="1.3" fill="none"/><path d="M2251.5 237.5Q2238.5 244.4 2232.7 256.4" stroke="#a6cf6c" stroke-width="1.3" fill="none"/><path d="M2251.5 237.5Q2239.5 236.9 2230.4 242.9" stroke="#a6cf6c" stroke-width="1.3" fill="none"/><path d="M2251.5 237.5Q2244.2 228.9 2234.1 226.5" stroke="#a6cf6c" stroke-width="1.3" fill="none"/><path d="M2251.5 237.5Q2249.7 223.9 2241.1 214.9" stroke="#a6cf6c" stroke-width="1.3" fill="none"/><path d="M2251.5 237.5Q2260.6 229.3 2263.0 218.4" stroke="#a6cf6c" stroke-width="1.3" fill="none"/><path d="M2251.5 237.5Q2263.3 238.0 2272.3 231.9" stroke="#a6cf6c" stroke-width="1.3" fill="none"/><path d="M2251.5 237.5Q2259.8 247.5 2271.3 250.5" stroke="#a6cf6c" stroke-width="1.3" fill="none"/><ellipse cx="2252.6" cy="254.0" rx="5.2" ry="3.7" fill="#76c22c" transform="rotate(86 2252.6 254.0)"/><ellipse cx="2232.7" cy="256.4" rx="5.9" ry="4.2" fill="#63b023" transform="rotate(135 2232.7 256.4)"/><ellipse cx="2230.4" cy="242.9" rx="5.6" ry="3.9" fill="#63b023" transform="rotate(166 2230.4 242.9)"/><ellipse cx="2234.1" cy="226.5" rx="6.0" ry="4.2" fill="#8ad033" transform="rotate(212 2234.1 226.5)"/><ellipse cx="2241.1" cy="214.9" rx="5.9" ry="4.2" fill="#63b023" transform="rotate(245 2241.1 214.9)"/><ellipse cx="2263.0" cy="218.4" rx="6.0" ry="4.3" fill="#7cc62a" transform="rotate(301 2263.0 218.4)"/><ellipse cx="2272.3" cy="231.9" rx="5.4" ry="3.8" fill="#76c22c" transform="rotate(345 2272.3 231.9)"/><ellipse cx="2271.3" cy="250.5" rx="5.1" ry="3.6" fill="#8ad033" transform="rotate(393 2271.3 250.5)"/><ellipse cx="2256.6" cy="242.9" rx="3.5" ry="2.6" fill="#6dbb26" transform="rotate(47 2256.6 242.9)"/><ellipse cx="2253.3" cy="240.2" rx="3.8" ry="2.8" fill="#8ad033" transform="rotate(56 2253.3 240.2)"/><ellipse cx="2251.7" cy="243.4" rx="4.1" ry="3.1" fill="#76c22c" transform="rotate(88 2251.7 243.4)"/>
<path d="M2306.0 198.5Q2310.7 207.2 2318.8 211.1" stroke="#a6cf6c" stroke-width="1.3" fill="none"/><path d="M2306.0 198.5Q2304.5 208.5 2308.8 216.7" stroke="#a6cf6c" stroke-width="1.3" fill="none"/><path d="M2306.0 198.5Q2296.1 206.4 2293.0 217.5" stroke="#a6cf6c" stroke-width="1.3" fill="none"/><path d="M2306.0 198.5Q2293.9 194.7 2282.9 198.4" stroke="#a6cf6c" stroke-width="1.3" fill="none"/><path d="M2306.0 198.5Q2299.9 188.1 2289.7 183.8" stroke="#a6cf6c" stroke-width="1.3" fill="none"/><path d="M2306.0 198.5Q2309.0 184.9 2303.9 173.2" stroke="#a6cf6c" stroke-width="1.3" fill="none"/><path d="M2306.0 198.5Q2316.7 192.0 2321.1 181.4" stroke="#a6cf6c" stroke-width="1.3" fill="none"/><path d="M2306.0 198.5Q2319.4 202.7 2331.5 198.6" stroke="#a6cf6c" stroke-width="1.3" fill="none"/><ellipse cx="2318.8" cy="211.1" rx="5.5" ry="3.9" fill="#8ad033" transform="rotate(45 2318.8 211.1)"/><ellipse cx="2308.8" cy="216.7" rx="6.8" ry="4.8" fill="#8ad033" transform="rotate(81 2308.8 216.7)"/><ellipse cx="2293.0" cy="217.5" rx="6.2" ry="4.4" fill="#6dbb26" transform="rotate(124 2293.0 217.5)"/><ellipse cx="2282.9" cy="198.4" rx="5.5" ry="3.9" fill="#6dbb26" transform="rotate(180 2282.9 198.4)"/><ellipse cx="2289.7" cy="183.8" rx="6.7" ry="4.8" fill="#6dbb26" transform="rotate(222 2289.7 183.8)"/><ellipse cx="2303.9" cy="173.2" rx="6.7" ry="4.8" fill="#6dbb26" transform="rotate(265 2303.9 173.2)"/><ellipse cx="2321.1" cy="181.4" rx="6.4" ry="4.6" fill="#8ad033" transform="rotate(311 2321.1 181.4)"/><ellipse cx="2331.5" cy="198.6" rx="5.8" ry="4.1" fill="#63b023" transform="rotate(360 2331.5 198.6)"/><ellipse cx="2308.7" cy="193.7" rx="4.5" ry="3.4" fill="#6dbb26" transform="rotate(299 2308.7 193.7)"/><ellipse cx="2308.0" cy="204.8" rx="4.6" ry="3.4" fill="#7cc62a" transform="rotate(72 2308.0 204.8)"/><ellipse cx="2308.1" cy="205.1" rx="4.7" ry="3.5" fill="#8ad033" transform="rotate(72 2308.1 205.1)"/>
<path d="M2314.0 230.0Q2317.1 235.1 2322.2 237.3" stroke="#a6cf6c" stroke-width="1.3" fill="none"/><path d="M2314.0 230.0Q2310.5 234.6 2310.5 239.8" stroke="#a6cf6c" stroke-width="1.3" fill="none"/><path d="M2314.0 230.0Q2306.3 230.2 2300.8 234.4" stroke="#a6cf6c" stroke-width="1.3" fill="none"/><path d="M2314.0 230.0Q2310.8 223.2 2304.7 219.9" stroke="#a6cf6c" stroke-width="1.3" fill="none"/><path d="M2314.0 230.0Q2316.5 222.7 2314.4 215.9" stroke="#a6cf6c" stroke-width="1.3" fill="none"/><path d="M2314.0 230.0Q2319.9 228.4 2323.5 224.0" stroke="#a6cf6c" stroke-width="1.3" fill="none"/><ellipse cx="2322.2" cy="237.3" rx="5.4" ry="3.8" fill="#6dbb26" transform="rotate(42 2322.2 237.3)"/><ellipse cx="2310.5" cy="239.8" rx="5.4" ry="3.8" fill="#6dbb26" transform="rotate(110 2310.5 239.8)"/><ellipse cx="2300.8" cy="234.4" rx="6.9" ry="4.9" fill="#7cc62a" transform="rotate(162 2300.8 234.4)"/><ellipse cx="2304.7" cy="219.9" rx="6.2" ry="4.4" fill="#6dbb26" transform="rotate(227 2304.7 219.9)"/><ellipse cx="2314.4" cy="215.9" rx="6.9" ry="4.9" fill="#63b023" transform="rotate(272 2314.4 215.9)"/><ellipse cx="2323.5" cy="224.0" rx="5.2" ry="3.7" fill="#7cc62a" transform="rotate(328 2323.5 224.0)"/><ellipse cx="2312.3" cy="233.2" rx="4.2" ry="3.1" fill="#63b023" transform="rotate(118 2312.3 233.2)"/><ellipse cx="2314.8" cy="233.2" rx="4.3" ry="3.2" fill="#7cc62a" transform="rotate(76 2314.8 233.2)"/><ellipse cx="2315.5" cy="227.8" rx="4.1" ry="3.0" fill="#8ad033" transform="rotate(304 2315.5 227.8)"/>
<path d="M2367.0 236.0Q2354.9 242.1 2349.2 253.1" stroke="#a6cf6c" stroke-width="1.3" fill="none"/><path d="M2367.0 236.0Q2355.4 232.4 2344.9 236.0" stroke="#a6cf6c" stroke-width="1.3" fill="none"/><path d="M2367.0 236.0Q2363.2 223.2 2353.5 215.8" stroke="#a6cf6c" stroke-width="1.3" fill="none"/><path d="M2367.0 236.0Q2369.8 223.5 2365.1 212.8" stroke="#a6cf6c" stroke-width="1.3" fill="none"/><path d="M2367.0 236.0Q2382.8 234.8 2393.8 225.4" stroke="#a6cf6c" stroke-width="1.3" fill="none"/><path d="M2367.0 236.0Q2378.6 245.0 2392.0 245.4" stroke="#a6cf6c" stroke-width="1.3" fill="none"/><path d="M2367.0 236.0Q2369.0 247.0 2376.4 254.1" stroke="#a6cf6c" stroke-width="1.3" fill="none"/><path d="M2367.0 236.0Q2357.2 247.9 2356.3 261.9" stroke="#a6cf6c" stroke-width="1.3" fill="none"/><ellipse cx="2349.2" cy="253.1" rx="6.5" ry="4.6" fill="#6dbb26" transform="rotate(136 2349.2 253.1)"/><ellipse cx="2344.9" cy="236.0" rx="6.6" ry="4.7" fill="#63b023" transform="rotate(180 2344.9 236.0)"/><ellipse cx="2353.5" cy="215.8" rx="5.3" ry="3.8" fill="#8ad033" transform="rotate(236 2353.5 215.8)"/><ellipse cx="2365.1" cy="212.8" rx="6.7" ry="4.8" fill="#8ad033" transform="rotate(265 2365.1 212.8)"/><ellipse cx="2393.8" cy="225.4" rx="6.5" ry="4.6" fill="#6dbb26" transform="rotate(338 2393.8 225.4)"/><ellipse cx="2392.0" cy="245.4" rx="5.8" ry="4.1" fill="#6dbb26" transform="rotate(381 2392.0 245.4)"/><ellipse cx="2376.4" cy="254.1" rx="5.2" ry="3.7" fill="#8ad033" transform="rotate(422 2376.4 254.1)"/><ellipse cx="2356.3" cy="261.9" rx="5.6" ry="4.0" fill="#7cc62a" transform="rotate(472 2356.3 261.9)"/><ellipse cx="2372.5" cy="236.4" rx="4.3" ry="3.2" fill="#76c22c" transform="rotate(4 2372.5 236.4)"/><ellipse cx="2371.8" cy="237.6" rx="4.8" ry="3.5" fill="#8ad033" transform="rotate(18 2371.8 237.6)"/><ellipse cx="2363.2" cy="242.2" rx="4.2" ry="3.1" fill="#76c22c" transform="rotate(122 2363.2 242.2)"/>
</g>
</g>
<clipPath id="cpc"><rect x="1775.0" y="511.8" width="334.4" height="326.7"/></clipPath>
<radialGradient id="gUc" cx="50%" cy="40%" r="62%"><stop offset="0" stop-color="#6e7371"/><stop offset="0.5" stop-color="#7a7f7d"/><stop offset="1" stop-color="#909491"/></radialGradient>
<radialGradient id="gLc" cx="50%" cy="55%" r="62%"><stop offset="0" stop-color="#7a7e7e"/><stop offset="0.6" stop-color="#808484"/><stop offset="1" stop-color="#939796"/></radialGradient>
<g clip-path="url(#cpc)">
<rect x="1775.0" y="511.8" width="334.4" height="326.7" fill="url(#gBg)"/>
<ellipse cx="1944.2" cy="678.7" rx="165.3" ry="162.8" fill="#1f201d" filter="url(#soft2)"/>
<ellipse cx="1942.2" cy="673.7" rx="159.5" ry="157.0" fill="url(#gRim)" stroke="#c6c8bd" stroke-width="1.6"/>
<ellipse cx="1942.2" cy="673.7" rx="156.10000000000002" ry="153.60000000000002" fill="none" stroke="#4a4d45" stroke-width="5" opacity="0.55"/>
<clipPath id="cic"><ellipse cx="1942.2" cy="669.2" rx="147.8" ry="142.3"/></clipPath>
<g clip-path="url(#cic)">
<polygon points="1781.9,515.9000000000001 2102.5,515.9000000000001 2102.5,681.8 1781.9,661.5" fill="url(#gUc)"/>
<polygon points="1781.9,661.5 2102.5,681.8 2102.5,831.5 1781.9,831.5" fill="url(#gLc)"/>
</g>
<ellipse cx="1942.2" cy="669.2" rx="147.8" ry="142.3" fill="none" stroke="#bdc0b6" stroke-width="1.6" opacity="0.85"/>
<ellipse cx="1942.2" cy="668.2" rx="141.8" ry="135.3" fill="none" stroke="#a0a49c" stroke-width="1.1" opacity="0.45"/>
<clipPath id="coc"><ellipse cx="1942.2" cy="673.7" rx="159.3" ry="156.8"/></clipPath><g clip-path="url(#coc)">
<line x1="1788" y1="657.4" x2="2100.5" y2="677.1" stroke="#8b8f8a" stroke-width="7" opacity="0.75"/>
<line x1="1788" y1="653.4" x2="2100.5" y2="673.1" stroke="#b9bcb4" stroke-width="1.3" opacity="0.85"/>
<line x1="1795" y1="662.3" x2="2093.5" y2="681.2" stroke="#33362f" stroke-width="2.2"/>
</g>

<ellipse cx="1929.2" cy="742.9" rx="43.8" ry="42.8" fill="#babca7"/>
<ellipse cx="1935.2" cy="738" rx="17.2" ry="16.6" fill="#ddd5ad"/><ellipse cx="1935.6" cy="737.6" rx="11.5" ry="10.8" fill="#ece1b4"/>
<g filter="url(#soft)">
<path d="M1852.5 616.5Q1864.3 628.4 1879.4 630.9" stroke="#8fbf5e" stroke-width="1.6" fill="none"/><path d="M1852.5 616.5Q1855.5 635.2 1867.8 647.3" stroke="#8fbf5e" stroke-width="1.6" fill="none"/><path d="M1852.5 616.5Q1847.1 633.6 1852.2 649.1" stroke="#8fbf5e" stroke-width="1.6" fill="none"/><path d="M1852.5 616.5Q1842.7 624.5 1839.8 635.7" stroke="#8fbf5e" stroke-width="1.6" fill="none"/><path d="M1852.5 616.5Q1837.9 615.1 1826.3 621.9" stroke="#8fbf5e" stroke-width="1.6" fill="none"/><path d="M1852.5 616.5Q1842.4 605.6 1829.1 603.0" stroke="#8fbf5e" stroke-width="1.6" fill="none"/><path d="M1852.5 616.5Q1846.9 602.2 1835.0 594.7" stroke="#8fbf5e" stroke-width="1.6" fill="none"/><path d="M1852.5 616.5Q1856.7 600.0 1850.9 585.5" stroke="#8fbf5e" stroke-width="1.6" fill="none"/><path d="M1852.5 616.5Q1865.5 607.2 1870.1 593.3" stroke="#8fbf5e" stroke-width="1.6" fill="none"/><path d="M1852.5 616.5Q1869.3 618.6 1882.7 611.1" stroke="#8fbf5e" stroke-width="1.6" fill="none"/><ellipse cx="1879.4" cy="630.9" rx="8.0" ry="5.7" fill="#4aab2a" transform="rotate(28 1879.4 630.9)"/><ellipse cx="1867.8" cy="647.3" rx="7.5" ry="5.3" fill="#4aab2a" transform="rotate(64 1867.8 647.3)"/><ellipse cx="1852.2" cy="649.1" rx="7.3" ry="5.2" fill="#4aab2a" transform="rotate(90 1852.2 649.1)"/><ellipse cx="1839.8" cy="635.7" rx="6.9" ry="4.9" fill="#41a026" transform="rotate(123 1839.8 635.7)"/><ellipse cx="1826.3" cy="621.9" rx="6.9" ry="4.9" fill="#41a026" transform="rotate(168 1826.3 621.9)"/><ellipse cx="1829.1" cy="603.0" rx="8.0" ry="5.7" fill="#4fb02c" transform="rotate(210 1829.1 603.0)"/><ellipse cx="1835.0" cy="594.7" rx="7.5" ry="5.3" fill="#4aab2a" transform="rotate(231 1835.0 594.7)"/><ellipse cx="1850.9" cy="585.5" rx="7.0" ry="5.0" fill="#38931f" transform="rotate(267 1850.9 585.5)"/><ellipse cx="1870.1" cy="593.3" rx="7.0" ry="5.0" fill="#4fb02c" transform="rotate(307 1870.1 593.3)"/><ellipse cx="1882.7" cy="611.1" rx="7.0" ry="4.9" fill="#56b630" transform="rotate(350 1882.7 611.1)"/><ellipse cx="1848.0" cy="621.5" rx="5.2" ry="3.9" fill="#4fb02c" transform="rotate(132 1848.0 621.5)"/><ellipse cx="1861.2" cy="612.4" rx="5.4" ry="4.0" fill="#4aab2a" transform="rotate(334 1861.2 612.4)"/><ellipse cx="1858.9" cy="617.1" rx="4.2" ry="3.1" fill="#41a026" transform="rotate(5 1858.9 617.1)"/><ellipse cx="1844.3" cy="621.8" rx="4.2" ry="3.1" fill="#56b630" transform="rotate(147 1844.3 621.8)"/>
<path d="M1902.5 576.5Q1903.3 554.0 1891.8 537.0" stroke="#8fbf5e" stroke-width="1.6" fill="none"/><path d="M1902.5 576.5Q1921.6 568.9 1931.5 553.0" stroke="#8fbf5e" stroke-width="1.6" fill="none"/><path d="M1902.5 576.5Q1920.2 580.5 1935.5 573.9" stroke="#8fbf5e" stroke-width="1.6" fill="none"/><path d="M1902.5 576.5Q1923.9 584.6 1944.1 579.1" stroke="#8fbf5e" stroke-width="1.6" fill="none"/><path d="M1902.5 576.5Q1904.9 597.8 1918.2 612.1" stroke="#8fbf5e" stroke-width="1.6" fill="none"/><path d="M1902.5 576.5Q1897.7 595.3 1904.3 611.8" stroke="#8fbf5e" stroke-width="1.6" fill="none"/><path d="M1902.5 576.5Q1890.8 585.7 1887.1 598.8" stroke="#8fbf5e" stroke-width="1.6" fill="none"/><path d="M1902.5 576.5Q1883.4 571.9 1866.9 578.7" stroke="#8fbf5e" stroke-width="1.6" fill="none"/><path d="M1902.5 576.5Q1886.3 568.5 1870.1 571.3" stroke="#8fbf5e" stroke-width="1.6" fill="none"/><path d="M1902.5 576.5Q1897.4 561.6 1885.7 553.3" stroke="#8fbf5e" stroke-width="1.6" fill="none"/><ellipse cx="1891.8" cy="537.0" rx="6.2" ry="4.4" fill="#4fb02c" transform="rotate(255 1891.8 537.0)"/><ellipse cx="1931.5" cy="553.0" rx="6.4" ry="4.5" fill="#56b630" transform="rotate(321 1931.5 553.0)"/><ellipse cx="1935.5" cy="573.9" rx="7.1" ry="5.0" fill="#38931f" transform="rotate(356 1935.5 573.9)"/><ellipse cx="1944.1" cy="579.1" rx="7.1" ry="5.0" fill="#56b630" transform="rotate(364 1944.1 579.1)"/><ellipse cx="1918.2" cy="612.1" rx="7.5" ry="5.3" fill="#38931f" transform="rotate(426 1918.2 612.1)"/><ellipse cx="1904.3" cy="611.8" rx="6.9" ry="4.9" fill="#4fb02c" transform="rotate(447 1904.3 611.8)"/><ellipse cx="1887.1" cy="598.8" rx="7.9" ry="5.6" fill="#41a026" transform="rotate(485 1887.1 598.8)"/><ellipse cx="1866.9" cy="578.7" rx="8.2" ry="5.8" fill="#41a026" transform="rotate(536 1866.9 578.7)"/><ellipse cx="1870.1" cy="571.3" rx="6.6" ry="4.7" fill="#4aab2a" transform="rotate(549 1870.1 571.3)"/><ellipse cx="1885.7" cy="553.3" rx="7.2" ry="5.1" fill="#56b630" transform="rotate(594 1885.7 553.3)"/><ellipse cx="1904.7" cy="566.4" rx="4.7" ry="3.5" fill="#56b630" transform="rotate(282 1904.7 566.4)"/><ellipse cx="1893.9" cy="569.4" rx="5.3" ry="3.9" fill="#41a026" transform="rotate(219 1893.9 569.4)"/><ellipse cx="1894.9" cy="568.1" rx="4.5" ry="3.3" fill="#41a026" transform="rotate(228 1894.9 568.1)"/><ellipse cx="1892.0" cy="576.4" rx="4.5" ry="3.3" fill="#4aab2a" transform="rotate(181 1892.0 576.4)"/>
<path d="M1914.5 618.5Q1900.5 603.2 1882.0 599.4" stroke="#8fbf5e" stroke-width="1.6" fill="none"/><path d="M1914.5 618.5Q1915.0 601.9 1906.4 589.5" stroke="#8fbf5e" stroke-width="1.6" fill="none"/><path d="M1914.5 618.5Q1922.3 605.1 1920.8 591.0" stroke="#8fbf5e" stroke-width="1.6" fill="none"/><path d="M1914.5 618.5Q1928.6 612.4 1935.7 600.3" stroke="#8fbf5e" stroke-width="1.6" fill="none"/><path d="M1914.5 618.5Q1930.3 623.8 1944.8 619.1" stroke="#8fbf5e" stroke-width="1.6" fill="none"/><path d="M1914.5 618.5Q1922.1 629.8 1933.8 634.1" stroke="#8fbf5e" stroke-width="1.6" fill="none"/><path d="M1914.5 618.5Q1908.5 637.4 1914.3 654.5" stroke="#8fbf5e" stroke-width="1.6" fill="none"/><path d="M1914.5 618.5Q1898.1 628.5 1891.4 644.8" stroke="#8fbf5e" stroke-width="1.6" fill="none"/><path d="M1914.5 618.5Q1899.2 624.0 1890.8 636.2" stroke="#8fbf5e" stroke-width="1.6" fill="none"/><path d="M1914.5 618.5Q1896.1 612.2 1879.2 617.5" stroke="#8fbf5e" stroke-width="1.6" fill="none"/><ellipse cx="1882.0" cy="599.4" rx="8.0" ry="5.7" fill="#41a026" transform="rotate(210 1882.0 599.4)"/><ellipse cx="1906.4" cy="589.5" rx="7.1" ry="5.0" fill="#56b630" transform="rotate(254 1906.4 589.5)"/><ellipse cx="1920.8" cy="591.0" rx="6.9" ry="4.9" fill="#41a026" transform="rotate(283 1920.8 591.0)"/><ellipse cx="1935.7" cy="600.3" rx="6.9" ry="4.9" fill="#4fb02c" transform="rotate(319 1935.7 600.3)"/><ellipse cx="1944.8" cy="619.1" rx="6.8" ry="4.8" fill="#4fb02c" transform="rotate(361 1944.8 619.1)"/><ellipse cx="1933.8" cy="634.1" rx="7.8" ry="5.5" fill="#41a026" transform="rotate(399 1933.8 634.1)"/><ellipse cx="1914.3" cy="654.5" rx="7.0" ry="5.0" fill="#56b630" transform="rotate(450 1914.3 654.5)"/><ellipse cx="1891.4" cy="644.8" rx="7.4" ry="5.2" fill="#38931f" transform="rotate(491 1891.4 644.8)"/><ellipse cx="1890.8" cy="636.2" rx="8.1" ry="5.7" fill="#4aab2a" transform="rotate(503 1890.8 636.2)"/><ellipse cx="1879.2" cy="617.5" rx="7.3" ry="5.2" fill="#38931f" transform="rotate(542 1879.2 617.5)"/><ellipse cx="1906.9" cy="615.3" rx="5.3" ry="3.9" fill="#56b630" transform="rotate(203 1906.9 615.3)"/><ellipse cx="1916.6" cy="614.3" rx="4.7" ry="3.4" fill="#4fb02c" transform="rotate(296 1916.6 614.3)"/><ellipse cx="1920.5" cy="621.9" rx="5.3" ry="3.9" fill="#56b630" transform="rotate(29 1920.5 621.9)"/><ellipse cx="1913.3" cy="624.0" rx="4.7" ry="3.5" fill="#56b630" transform="rotate(102 1913.3 624.0)"/>
<path d="M1970.0 584.5Q1960.1 593.8 1957.8 606.0" stroke="#8fbf5e" stroke-width="1.6" fill="none"/><path d="M1970.0 584.5Q1956.3 580.6 1944.2 585.2" stroke="#8fbf5e" stroke-width="1.6" fill="none"/><path d="M1970.0 584.5Q1958.6 570.3 1942.6 566.0" stroke="#8fbf5e" stroke-width="1.6" fill="none"/><path d="M1970.0 584.5Q1973.9 567.0 1967.3 552.0" stroke="#8fbf5e" stroke-width="1.6" fill="none"/><path d="M1970.0 584.5Q1980.5 576.7 1984.0 565.3" stroke="#8fbf5e" stroke-width="1.6" fill="none"/><path d="M1970.0 584.5Q1983.9 585.1 1994.5 578.0" stroke="#8fbf5e" stroke-width="1.6" fill="none"/><path d="M1970.0 584.5Q1982.4 590.8 1995.0 588.8" stroke="#8fbf5e" stroke-width="1.6" fill="none"/><path d="M1970.0 584.5Q1972.7 598.2 1982.1 606.8" stroke="#8fbf5e" stroke-width="1.6" fill="none"/><path d="M1970.0 584.5Q1966.9 598.3 1972.0 610.2" stroke="#8fbf5e" stroke-width="1.6" fill="none"/><ellipse cx="1957.8" cy="606.0" rx="6.9" ry="4.9" fill="#41a026" transform="rotate(120 1957.8 606.0)"/><ellipse cx="1944.2" cy="585.2" rx="7.8" ry="5.5" fill="#56b630" transform="rotate(179 1944.2 585.2)"/><ellipse cx="1942.6" cy="566.0" rx="7.9" ry="5.6" fill="#4fb02c" transform="rotate(214 1942.6 566.0)"/><ellipse cx="1967.3" cy="552.0" rx="6.4" ry="4.5" fill="#4fb02c" transform="rotate(265 1967.3 552.0)"/><ellipse cx="1984.0" cy="565.3" rx="7.3" ry="5.2" fill="#41a026" transform="rotate(306 1984.0 565.3)"/><ellipse cx="1994.5" cy="578.0" rx="6.3" ry="4.4" fill="#38931f" transform="rotate(345 1994.5 578.0)"/><ellipse cx="1995.0" cy="588.8" rx="8.1" ry="5.7" fill="#56b630" transform="rotate(370 1995.0 588.8)"/><ellipse cx="1982.1" cy="606.8" rx="7.9" ry="5.6" fill="#41a026" transform="rotate(422 1982.1 606.8)"/><ellipse cx="1972.0" cy="610.2" rx="7.2" ry="5.1" fill="#4fb02c" transform="rotate(446 1972.0 610.2)"/><ellipse cx="1973.3" cy="589.6" rx="4.2" ry="3.1" fill="#38931f" transform="rotate(57 1973.3 589.6)"/><ellipse cx="1977.2" cy="587.6" rx="5.4" ry="4.0" fill="#4aab2a" transform="rotate(23 1977.2 587.6)"/><ellipse cx="1967.0" cy="589.6" rx="4.3" ry="3.2" fill="#56b630" transform="rotate(120 1967.0 589.6)"/><ellipse cx="1977.2" cy="588.8" rx="4.4" ry="3.2" fill="#38931f" transform="rotate(30 1977.2 588.8)"/>
<path d="M1960.0 626.5Q1958.4 640.3 1964.7 651.3" stroke="#8fbf5e" stroke-width="1.6" fill="none"/><path d="M1960.0 626.5Q1946.4 633.1 1939.9 645.3" stroke="#8fbf5e" stroke-width="1.6" fill="none"/><path d="M1960.0 626.5Q1945.0 624.9 1933.1 631.7" stroke="#8fbf5e" stroke-width="1.6" fill="none"/><path d="M1960.0 626.5Q1950.3 613.2 1936.0 608.6" stroke="#8fbf5e" stroke-width="1.6" fill="none"/><path d="M1960.0 626.5Q1958.2 613.6 1950.0 605.0" stroke="#8fbf5e" stroke-width="1.6" fill="none"/><path d="M1960.0 626.5Q1968.0 612.8 1966.5 598.4" stroke="#8fbf5e" stroke-width="1.6" fill="none"/><path d="M1960.0 626.5Q1974.8 626.6 1985.7 618.8" stroke="#8fbf5e" stroke-width="1.6" fill="none"/><path d="M1960.0 626.5Q1973.8 634.8 1988.3 633.5" stroke="#8fbf5e" stroke-width="1.6" fill="none"/><path d="M1960.0 626.5Q1966.6 640.8 1979.1 647.8" stroke="#8fbf5e" stroke-width="1.6" fill="none"/><ellipse cx="1964.7" cy="651.3" rx="8.0" ry="5.6" fill="#38931f" transform="rotate(79 1964.7 651.3)"/><ellipse cx="1939.9" cy="645.3" rx="8.3" ry="5.8" fill="#4aab2a" transform="rotate(137 1939.9 645.3)"/><ellipse cx="1933.1" cy="631.7" rx="7.3" ry="5.1" fill="#4aab2a" transform="rotate(169 1933.1 631.7)"/><ellipse cx="1936.0" cy="608.6" rx="7.9" ry="5.6" fill="#38931f" transform="rotate(217 1936.0 608.6)"/><ellipse cx="1950.0" cy="605.0" rx="8.2" ry="5.8" fill="#41a026" transform="rotate(245 1950.0 605.0)"/><ellipse cx="1966.5" cy="598.4" rx="6.6" ry="4.7" fill="#41a026" transform="rotate(283 1966.5 598.4)"/><ellipse cx="1985.7" cy="618.8" rx="8.3" ry="5.9" fill="#38931f" transform="rotate(343 1985.7 618.8)"/><ellipse cx="1988.3" cy="633.5" rx="7.6" ry="5.4" fill="#56b630" transform="rotate(374 1988.3 633.5)"/><ellipse cx="1979.1" cy="647.8" rx="6.5" ry="4.6" fill="#38931f" transform="rotate(408 1979.1 647.8)"/><ellipse cx="1954.7" cy="625.5" rx="5.6" ry="4.1" fill="#38931f" transform="rotate(190 1954.7 625.5)"/><ellipse cx="1958.4" cy="630.6" rx="5.2" ry="3.9" fill="#41a026" transform="rotate(111 1958.4 630.6)"/><ellipse cx="1967.1" cy="622.1" rx="4.2" ry="3.1" fill="#38931f" transform="rotate(328 1967.1 622.1)"/><ellipse cx="1963.3" cy="624.4" rx="4.3" ry="3.2" fill="#41a026" transform="rotate(327 1963.3 624.4)"/>
<path d="M2024.0 620.5Q2006.4 630.9 1999.1 648.0" stroke="#8fbf5e" stroke-width="1.6" fill="none"/><path d="M2024.0 620.5Q2006.9 618.8 1993.5 626.7" stroke="#8fbf5e" stroke-width="1.6" fill="none"/><path d="M2024.0 620.5Q2008.4 608.5 1990.5 608.0" stroke="#8fbf5e" stroke-width="1.6" fill="none"/><path d="M2024.0 620.5Q2019.6 604.5 2007.8 595.0" stroke="#8fbf5e" stroke-width="1.6" fill="none"/><path d="M2024.0 620.5Q2029.1 605.4 2024.7 591.6" stroke="#8fbf5e" stroke-width="1.6" fill="none"/><path d="M2024.0 620.5Q2043.2 613.2 2053.4 597.5" stroke="#8fbf5e" stroke-width="1.6" fill="none"/><path d="M2024.0 620.5Q2042.1 620.3 2055.3 610.4" stroke="#8fbf5e" stroke-width="1.6" fill="none"/><path d="M2024.0 620.5Q2035.8 635.4 2052.5 640.0" stroke="#8fbf5e" stroke-width="1.6" fill="none"/><path d="M2024.0 620.5Q2024.3 633.8 2031.8 643.4" stroke="#8fbf5e" stroke-width="1.6" fill="none"/><path d="M2024.0 620.5Q2015.8 638.5 2019.4 656.1" stroke="#8fbf5e" stroke-width="1.6" fill="none"/><ellipse cx="1999.1" cy="648.0" rx="7.0" ry="4.9" fill="#41a026" transform="rotate(132 1999.1 648.0)"/><ellipse cx="1993.5" cy="626.7" rx="8.2" ry="5.8" fill="#38931f" transform="rotate(168 1993.5 626.7)"/><ellipse cx="1990.5" cy="608.0" rx="8.3" ry="5.9" fill="#4fb02c" transform="rotate(200 1990.5 608.0)"/><ellipse cx="2007.8" cy="595.0" rx="7.8" ry="5.5" fill="#4aab2a" transform="rotate(238 2007.8 595.0)"/><ellipse cx="2024.7" cy="591.6" rx="7.6" ry="5.4" fill="#41a026" transform="rotate(271 2024.7 591.6)"/><ellipse cx="2053.4" cy="597.5" rx="8.1" ry="5.7" fill="#38931f" transform="rotate(322 2053.4 597.5)"/><ellipse cx="2055.3" cy="610.4" rx="8.1" ry="5.8" fill="#38931f" transform="rotate(342 2055.3 610.4)"/><ellipse cx="2052.5" cy="640.0" rx="7.9" ry="5.6" fill="#38931f" transform="rotate(394 2052.5 640.0)"/><ellipse cx="2031.8" cy="643.4" rx="7.4" ry="5.3" fill="#41a026" transform="rotate(431 2031.8 643.4)"/><ellipse cx="2019.4" cy="656.1" rx="7.0" ry="5.0" fill="#56b630" transform="rotate(457 2019.4 656.1)"/><ellipse cx="2031.0" cy="629.5" rx="5.5" ry="4.1" fill="#41a026" transform="rotate(52 2031.0 629.5)"/><ellipse cx="2016.1" cy="611.3" rx="4.6" ry="3.4" fill="#4fb02c" transform="rotate(229 2016.1 611.3)"/><ellipse cx="2032.4" cy="623.4" rx="4.4" ry="3.3" fill="#41a026" transform="rotate(19 2032.4 623.4)"/><ellipse cx="2028.7" cy="610.6" rx="5.5" ry="4.1" fill="#4aab2a" transform="rotate(296 2028.7 610.6)"/>
</g>
</g>
<clipPath id="cpd"><rect x="2118.0" y="511.8" width="327.3" height="326.7"/></clipPath>
<radialGradient id="gUd" cx="50%" cy="40%" r="62%"><stop offset="0" stop-color="#6b6f6b"/><stop offset="0.5" stop-color="#767a75"/><stop offset="1" stop-color="#8c908b"/></radialGradient>
<radialGradient id="gLd" cx="50%" cy="55%" r="62%"><stop offset="0" stop-color="#737671"/><stop offset="0.6" stop-color="#787b76"/><stop offset="1" stop-color="#8c8f8a"/></radialGradient>
<g clip-path="url(#cpd)">
<rect x="2118.0" y="511.8" width="327.3" height="326.7" fill="url(#gBg)"/>
<ellipse cx="2285.2" cy="678.7" rx="163.3" ry="162.8" fill="#1f201d" filter="url(#soft2)"/>
<ellipse cx="2283.2" cy="673.7" rx="157.5" ry="157.0" fill="url(#gRim)" stroke="#c6c8bd" stroke-width="1.6"/>
<ellipse cx="2283.2" cy="673.7" rx="154.10000000000002" ry="153.60000000000002" fill="none" stroke="#4a4d45" stroke-width="5" opacity="0.55"/>
<clipPath id="cid"><ellipse cx="2283.2" cy="669.2" rx="145.8" ry="142.3"/></clipPath>
<g clip-path="url(#cid)">
<polygon points="2124.8999999999996,515.9000000000001 2441.5,515.9000000000001 2441.5,689.6 2124.8999999999996,688.6" fill="url(#gUd)"/>
<polygon points="2124.8999999999996,688.6 2441.5,689.6 2441.5,831.5 2124.8999999999996,831.5" fill="url(#gLd)"/>
</g>
<ellipse cx="2283.2" cy="669.2" rx="145.8" ry="142.3" fill="none" stroke="#bdc0b6" stroke-width="1.6" opacity="0.85"/>
<ellipse cx="2283.2" cy="668.2" rx="139.8" ry="135.3" fill="none" stroke="#a0a49c" stroke-width="1.1" opacity="0.45"/>
<clipPath id="cod"><ellipse cx="2283.2" cy="673.7" rx="157.3" ry="156.8"/></clipPath><g clip-path="url(#cod)">
<line x1="2128" y1="684.1" x2="2445" y2="685.1" stroke="#8b8f8a" stroke-width="7" opacity="0.75"/>
<line x1="2128" y1="680.1" x2="2445" y2="681.1" stroke="#b9bcb4" stroke-width="1.3" opacity="0.85"/>
<line x1="2135" y1="688.6" x2="2438" y2="689.6" stroke="#33362f" stroke-width="2.2"/>
</g>
<g fill="#878a82" opacity="0.9" filter="url(#soft)"><ellipse cx="2322" cy="718" rx="13" ry="10"/><ellipse cx="2335" cy="722" rx="10" ry="8"/><ellipse cx="2326" cy="706" rx="9" ry="7"/><ellipse cx="2328" cy="757" rx="10" ry="11"/><ellipse cx="2321" cy="745" rx="7" ry="7"/><ellipse cx="2224" cy="783" rx="13" ry="10"/><ellipse cx="2234" cy="793" rx="10" ry="7"/><ellipse cx="2240" cy="722" rx="6" ry="6"/><ellipse cx="2272.5" cy="750.5" rx="43.5" ry="42.5"/></g>
<ellipse cx="2273.3" cy="750.9" rx="40.0" ry="38.9" fill="#bebaa9"/>

<g filter="url(#soft)">
<path d="M2189.5 624.5Q2176.6 632.7 2171.6 645.7" stroke="#8fbf5e" stroke-width="1.6" fill="none"/><path d="M2189.5 624.5Q2169.8 624.3 2155.2 634.7" stroke="#8fbf5e" stroke-width="1.6" fill="none"/><path d="M2189.5 624.5Q2175.8 609.1 2157.4 605.2" stroke="#8fbf5e" stroke-width="1.6" fill="none"/><path d="M2189.5 624.5Q2185.8 607.4 2174.0 596.7" stroke="#8fbf5e" stroke-width="1.6" fill="none"/><path d="M2189.5 624.5Q2190.6 610.7 2183.9 599.9" stroke="#8fbf5e" stroke-width="1.6" fill="none"/><path d="M2189.5 624.5Q2204.7 616.3 2211.5 602.1" stroke="#8fbf5e" stroke-width="1.6" fill="none"/><path d="M2189.5 624.5Q2207.5 624.9 2220.9 615.5" stroke="#8fbf5e" stroke-width="1.6" fill="none"/><path d="M2189.5 624.5Q2207.4 637.5 2227.5 637.4" stroke="#8fbf5e" stroke-width="1.6" fill="none"/><path d="M2189.5 624.5Q2201.8 643.0 2220.8 650.0" stroke="#8fbf5e" stroke-width="1.6" fill="none"/><path d="M2189.5 624.5Q2187.3 640.7 2194.4 653.9" stroke="#8fbf5e" stroke-width="1.6" fill="none"/><ellipse cx="2171.6" cy="645.7" rx="8.7" ry="6.2" fill="#4fb02c" transform="rotate(130 2171.6 645.7)"/><ellipse cx="2155.2" cy="634.7" rx="8.4" ry="6.0" fill="#38931f" transform="rotate(163 2155.2 634.7)"/><ellipse cx="2157.4" cy="605.2" rx="9.5" ry="6.7" fill="#4aab2a" transform="rotate(211 2157.4 605.2)"/><ellipse cx="2174.0" cy="596.7" rx="8.6" ry="6.1" fill="#41a026" transform="rotate(241 2174.0 596.7)"/><ellipse cx="2183.9" cy="599.9" rx="7.9" ry="5.6" fill="#38931f" transform="rotate(257 2183.9 599.9)"/><ellipse cx="2211.5" cy="602.1" rx="9.5" ry="6.7" fill="#4aab2a" transform="rotate(315 2211.5 602.1)"/><ellipse cx="2220.9" cy="615.5" rx="9.4" ry="6.7" fill="#4aab2a" transform="rotate(344 2220.9 615.5)"/><ellipse cx="2227.5" cy="637.4" rx="10.0" ry="7.1" fill="#38931f" transform="rotate(379 2227.5 637.4)"/><ellipse cx="2220.8" cy="650.0" rx="8.2" ry="5.8" fill="#4fb02c" transform="rotate(399 2220.8 650.0)"/><ellipse cx="2194.4" cy="653.9" rx="7.9" ry="5.6" fill="#4aab2a" transform="rotate(441 2194.4 653.9)"/><ellipse cx="2196.8" cy="615.2" rx="6.7" ry="4.9" fill="#4fb02c" transform="rotate(308 2196.8 615.2)"/><ellipse cx="2195.3" cy="632.7" rx="7.1" ry="5.3" fill="#56b630" transform="rotate(55 2195.3 632.7)"/><ellipse cx="2200.1" cy="621.3" rx="6.3" ry="4.7" fill="#4aab2a" transform="rotate(343 2200.1 621.3)"/><ellipse cx="2189.2" cy="631.1" rx="6.7" ry="4.9" fill="#56b630" transform="rotate(92 2189.2 631.1)"/>
<path d="M2249.5 576.5Q2241.5 589.5 2242.7 603.4" stroke="#8fbf5e" stroke-width="1.6" fill="none"/><path d="M2249.5 576.5Q2236.2 580.4 2228.5 590.4" stroke="#8fbf5e" stroke-width="1.6" fill="none"/><path d="M2249.5 576.5Q2233.5 569.0 2217.6 572.1" stroke="#8fbf5e" stroke-width="1.6" fill="none"/><path d="M2249.5 576.5Q2238.1 560.2 2220.9 554.4" stroke="#8fbf5e" stroke-width="1.6" fill="none"/><path d="M2249.5 576.5Q2249.2 562.1 2241.2 551.6" stroke="#8fbf5e" stroke-width="1.6" fill="none"/><path d="M2249.5 576.5Q2255.5 564.1 2253.3 551.7" stroke="#8fbf5e" stroke-width="1.6" fill="none"/><path d="M2249.5 576.5Q2271.5 572.0 2285.3 556.9" stroke="#8fbf5e" stroke-width="1.6" fill="none"/><path d="M2249.5 576.5Q2266.7 579.2 2280.9 571.9" stroke="#8fbf5e" stroke-width="1.6" fill="none"/><path d="M2249.5 576.5Q2259.5 594.4 2276.5 602.2" stroke="#8fbf5e" stroke-width="1.6" fill="none"/><path d="M2249.5 576.5Q2251.7 593.0 2262.2 603.9" stroke="#8fbf5e" stroke-width="1.6" fill="none"/><ellipse cx="2242.7" cy="603.4" rx="9.9" ry="7.0" fill="#4fb02c" transform="rotate(104 2242.7 603.4)"/><ellipse cx="2228.5" cy="590.4" rx="8.0" ry="5.6" fill="#41a026" transform="rotate(146 2228.5 590.4)"/><ellipse cx="2217.6" cy="572.1" rx="9.8" ry="6.9" fill="#38931f" transform="rotate(188 2217.6 572.1)"/><ellipse cx="2220.9" cy="554.4" rx="9.0" ry="6.3" fill="#38931f" transform="rotate(218 2220.9 554.4)"/><ellipse cx="2241.2" cy="551.6" rx="9.4" ry="6.6" fill="#38931f" transform="rotate(252 2241.2 551.6)"/><ellipse cx="2253.3" cy="551.7" rx="9.3" ry="6.6" fill="#56b630" transform="rotate(279 2253.3 551.7)"/><ellipse cx="2285.3" cy="556.9" rx="10.4" ry="7.4" fill="#41a026" transform="rotate(331 2285.3 556.9)"/><ellipse cx="2280.9" cy="571.9" rx="9.5" ry="6.7" fill="#4fb02c" transform="rotate(352 2280.9 571.9)"/><ellipse cx="2276.5" cy="602.2" rx="9.1" ry="6.4" fill="#56b630" transform="rotate(404 2276.5 602.2)"/><ellipse cx="2262.2" cy="603.9" rx="8.5" ry="6.0" fill="#56b630" transform="rotate(425 2262.2 603.9)"/><ellipse cx="2246.5" cy="584.5" rx="6.3" ry="4.7" fill="#41a026" transform="rotate(110 2246.5 584.5)"/><ellipse cx="2238.1" cy="575.8" rx="6.9" ry="5.1" fill="#4fb02c" transform="rotate(183 2238.1 575.8)"/><ellipse cx="2247.9" cy="569.7" rx="6.3" ry="4.6" fill="#56b630" transform="rotate(257 2247.9 569.7)"/><ellipse cx="2242.0" cy="574.2" rx="6.2" ry="4.6" fill="#41a026" transform="rotate(197 2242.0 574.2)"/>
<path d="M2257.0 624.5Q2246.9 617.6 2235.7 618.0" stroke="#8fbf5e" stroke-width="1.6" fill="none"/><path d="M2257.0 624.5Q2259.0 609.8 2252.6 598.0" stroke="#8fbf5e" stroke-width="1.6" fill="none"/><path d="M2257.0 624.5Q2268.0 615.2 2271.0 602.5" stroke="#8fbf5e" stroke-width="1.6" fill="none"/><path d="M2257.0 624.5Q2270.5 622.2 2279.3 613.3" stroke="#8fbf5e" stroke-width="1.6" fill="none"/><path d="M2257.0 624.5Q2266.4 631.8 2277.3 632.1" stroke="#8fbf5e" stroke-width="1.6" fill="none"/><path d="M2257.0 624.5Q2264.2 640.7 2278.3 648.8" stroke="#8fbf5e" stroke-width="1.6" fill="none"/><path d="M2257.0 624.5Q2257.3 637.7 2264.7 647.3" stroke="#8fbf5e" stroke-width="1.6" fill="none"/><path d="M2257.0 624.5Q2241.7 633.7 2235.4 648.7" stroke="#8fbf5e" stroke-width="1.6" fill="none"/><path d="M2257.0 624.5Q2242.8 621.3 2230.5 626.6" stroke="#8fbf5e" stroke-width="1.6" fill="none"/><ellipse cx="2235.7" cy="618.0" rx="9.7" ry="6.8" fill="#41a026" transform="rotate(197 2235.7 618.0)"/><ellipse cx="2252.6" cy="598.0" rx="10.2" ry="7.2" fill="#4fb02c" transform="rotate(261 2252.6 598.0)"/><ellipse cx="2271.0" cy="602.5" rx="9.1" ry="6.5" fill="#4aab2a" transform="rotate(303 2271.0 602.5)"/><ellipse cx="2279.3" cy="613.3" rx="9.2" ry="6.5" fill="#56b630" transform="rotate(333 2279.3 613.3)"/><ellipse cx="2277.3" cy="632.1" rx="8.0" ry="5.7" fill="#56b630" transform="rotate(381 2277.3 632.1)"/><ellipse cx="2278.3" cy="648.8" rx="9.3" ry="6.6" fill="#4aab2a" transform="rotate(409 2278.3 648.8)"/><ellipse cx="2264.7" cy="647.3" rx="10.2" ry="7.3" fill="#4aab2a" transform="rotate(431 2264.7 647.3)"/><ellipse cx="2235.4" cy="648.7" rx="8.4" ry="5.9" fill="#56b630" transform="rotate(492 2235.4 648.7)"/><ellipse cx="2230.5" cy="626.6" rx="8.3" ry="5.8" fill="#4fb02c" transform="rotate(535 2230.5 626.6)"/><ellipse cx="2253.6" cy="628.5" rx="6.4" ry="4.7" fill="#4aab2a" transform="rotate(131 2253.6 628.5)"/><ellipse cx="2250.5" cy="626.4" rx="6.8" ry="5.0" fill="#41a026" transform="rotate(163 2250.5 626.4)"/><ellipse cx="2253.9" cy="632.6" rx="6.7" ry="5.0" fill="#38931f" transform="rotate(111 2253.9 632.6)"/><ellipse cx="2250.7" cy="618.9" rx="6.8" ry="5.0" fill="#41a026" transform="rotate(221 2250.7 618.9)"/>
<path d="M2317.0 580.5Q2317.5 594.4 2325.3 604.3" stroke="#8fbf5e" stroke-width="1.6" fill="none"/><path d="M2317.0 580.5Q2309.2 598.5 2313.1 615.9" stroke="#8fbf5e" stroke-width="1.6" fill="none"/><path d="M2317.0 580.5Q2303.3 586.2 2296.3 597.8" stroke="#8fbf5e" stroke-width="1.6" fill="none"/><path d="M2317.0 580.5Q2296.1 573.2 2276.7 579.1" stroke="#8fbf5e" stroke-width="1.6" fill="none"/><path d="M2317.0 580.5Q2303.0 567.7 2285.9 565.8" stroke="#8fbf5e" stroke-width="1.6" fill="none"/><path d="M2317.0 580.5Q2316.9 562.7 2307.2 549.7" stroke="#8fbf5e" stroke-width="1.6" fill="none"/><path d="M2317.0 580.5Q2324.9 565.2 2322.6 549.6" stroke="#8fbf5e" stroke-width="1.6" fill="none"/><path d="M2317.0 580.5Q2335.3 575.0 2345.9 561.0" stroke="#8fbf5e" stroke-width="1.6" fill="none"/><path d="M2317.0 580.5Q2336.3 584.5 2352.7 577.0" stroke="#8fbf5e" stroke-width="1.6" fill="none"/><path d="M2317.0 580.5Q2327.9 597.7 2345.2 604.5" stroke="#8fbf5e" stroke-width="1.6" fill="none"/><ellipse cx="2325.3" cy="604.3" rx="9.7" ry="6.9" fill="#38931f" transform="rotate(71 2325.3 604.3)"/><ellipse cx="2313.1" cy="615.9" rx="10.1" ry="7.2" fill="#38931f" transform="rotate(96 2313.1 615.9)"/><ellipse cx="2296.3" cy="597.8" rx="10.0" ry="7.1" fill="#38931f" transform="rotate(140 2296.3 597.8)"/><ellipse cx="2276.7" cy="579.1" rx="9.9" ry="7.0" fill="#4aab2a" transform="rotate(182 2276.7 579.1)"/><ellipse cx="2285.9" cy="565.8" rx="9.2" ry="6.5" fill="#4fb02c" transform="rotate(205 2285.9 565.8)"/><ellipse cx="2307.2" cy="549.7" rx="8.5" ry="6.0" fill="#4fb02c" transform="rotate(252 2307.2 549.7)"/><ellipse cx="2322.6" cy="549.6" rx="8.8" ry="6.2" fill="#4aab2a" transform="rotate(280 2322.6 549.6)"/><ellipse cx="2345.9" cy="561.0" rx="8.5" ry="6.0" fill="#4aab2a" transform="rotate(326 2345.9 561.0)"/><ellipse cx="2352.7" cy="577.0" rx="8.4" ry="6.0" fill="#4fb02c" transform="rotate(354 2352.7 577.0)"/><ellipse cx="2345.2" cy="604.5" rx="10.2" ry="7.2" fill="#38931f" transform="rotate(400 2345.2 604.5)"/><ellipse cx="2307.9" cy="574.1" rx="5.8" ry="4.3" fill="#4fb02c" transform="rotate(215 2307.9 574.1)"/><ellipse cx="2321.9" cy="575.7" rx="6.9" ry="5.1" fill="#41a026" transform="rotate(316 2321.9 575.7)"/><ellipse cx="2308.8" cy="580.4" rx="5.3" ry="3.9" fill="#4aab2a" transform="rotate(181 2308.8 580.4)"/><ellipse cx="2310.2" cy="579.4" rx="5.8" ry="4.3" fill="#38931f" transform="rotate(189 2310.2 579.4)"/>
<path d="M2319.0 626.5Q2333.2 628.4 2344.8 622.2" stroke="#8fbf5e" stroke-width="1.6" fill="none"/><path d="M2319.0 626.5Q2326.6 636.0 2337.2 638.9" stroke="#8fbf5e" stroke-width="1.6" fill="none"/><path d="M2319.0 626.5Q2320.5 638.2 2327.8 646.0" stroke="#8fbf5e" stroke-width="1.6" fill="none"/><path d="M2319.0 626.5Q2309.8 638.5 2309.5 652.3" stroke="#8fbf5e" stroke-width="1.6" fill="none"/><path d="M2319.0 626.5Q2308.3 632.4 2303.6 642.4" stroke="#8fbf5e" stroke-width="1.6" fill="none"/><path d="M2319.0 626.5Q2302.0 621.3 2286.6 626.6" stroke="#8fbf5e" stroke-width="1.6" fill="none"/><path d="M2319.0 626.5Q2310.7 613.4 2297.5 608.2" stroke="#8fbf5e" stroke-width="1.6" fill="none"/><path d="M2319.0 626.5Q2317.7 612.0 2308.9 602.0" stroke="#8fbf5e" stroke-width="1.6" fill="none"/><path d="M2319.0 626.5Q2329.3 617.9 2332.3 606.0" stroke="#8fbf5e" stroke-width="1.6" fill="none"/><ellipse cx="2344.8" cy="622.2" rx="9.7" ry="6.8" fill="#4aab2a" transform="rotate(351 2344.8 622.2)"/><ellipse cx="2337.2" cy="638.9" rx="8.5" ry="6.0" fill="#4aab2a" transform="rotate(394 2337.2 638.9)"/><ellipse cx="2327.8" cy="646.0" rx="8.8" ry="6.3" fill="#38931f" transform="rotate(426 2327.8 646.0)"/><ellipse cx="2309.5" cy="652.3" rx="9.9" ry="7.0" fill="#38931f" transform="rotate(470 2309.5 652.3)"/><ellipse cx="2303.6" cy="642.4" rx="8.0" ry="5.6" fill="#4fb02c" transform="rotate(494 2303.6 642.4)"/><ellipse cx="2286.6" cy="626.6" rx="8.2" ry="5.8" fill="#56b630" transform="rotate(540 2286.6 626.6)"/><ellipse cx="2297.5" cy="608.2" rx="7.6" ry="5.4" fill="#56b630" transform="rotate(580 2297.5 608.2)"/><ellipse cx="2308.9" cy="602.0" rx="8.4" ry="6.0" fill="#38931f" transform="rotate(608 2308.9 602.0)"/><ellipse cx="2332.3" cy="606.0" rx="8.0" ry="5.6" fill="#38931f" transform="rotate(663 2332.3 606.0)"/><ellipse cx="2322.9" cy="622.7" rx="7.0" ry="5.1" fill="#4aab2a" transform="rotate(316 2322.9 622.7)"/><ellipse cx="2322.3" cy="635.7" rx="5.9" ry="4.4" fill="#38931f" transform="rotate(70 2322.3 635.7)"/><ellipse cx="2327.4" cy="627.3" rx="6.6" ry="4.9" fill="#4fb02c" transform="rotate(6 2327.4 627.3)"/><ellipse cx="2321.5" cy="634.5" rx="5.6" ry="4.1" fill="#4aab2a" transform="rotate(73 2321.5 634.5)"/>
<path d="M2363.0 622.5Q2356.6 608.9 2344.6 602.3" stroke="#8fbf5e" stroke-width="1.6" fill="none"/><path d="M2363.0 622.5Q2372.8 603.6 2369.8 584.4" stroke="#8fbf5e" stroke-width="1.6" fill="none"/><path d="M2363.0 622.5Q2376.5 617.0 2383.6 605.7" stroke="#8fbf5e" stroke-width="1.6" fill="none"/><path d="M2363.0 622.5Q2382.6 619.7 2395.5 607.1" stroke="#8fbf5e" stroke-width="1.6" fill="none"/><path d="M2363.0 622.5Q2376.4 631.1 2391.0 630.2" stroke="#8fbf5e" stroke-width="1.6" fill="none"/><path d="M2363.0 622.5Q2365.3 642.4 2377.8 655.8" stroke="#8fbf5e" stroke-width="1.6" fill="none"/><path d="M2363.0 622.5Q2359.3 640.2 2366.1 655.2" stroke="#8fbf5e" stroke-width="1.6" fill="none"/><path d="M2363.0 622.5Q2348.0 628.6 2340.3 641.2" stroke="#8fbf5e" stroke-width="1.6" fill="none"/><path d="M2363.0 622.5Q2347.2 620.3 2334.3 627.1" stroke="#8fbf5e" stroke-width="1.6" fill="none"/><path d="M2363.0 622.5Q2345.5 611.4 2326.5 612.6" stroke="#8fbf5e" stroke-width="1.6" fill="none"/><ellipse cx="2344.6" cy="602.3" rx="9.1" ry="6.4" fill="#4aab2a" transform="rotate(228 2344.6 602.3)"/><ellipse cx="2369.8" cy="584.4" rx="9.3" ry="6.6" fill="#41a026" transform="rotate(280 2369.8 584.4)"/><ellipse cx="2383.6" cy="605.7" rx="10.4" ry="7.3" fill="#41a026" transform="rotate(321 2383.6 605.7)"/><ellipse cx="2395.5" cy="607.1" rx="9.5" ry="6.7" fill="#56b630" transform="rotate(335 2395.5 607.1)"/><ellipse cx="2391.0" cy="630.2" rx="7.9" ry="5.6" fill="#4aab2a" transform="rotate(375 2391.0 630.2)"/><ellipse cx="2377.8" cy="655.8" rx="8.9" ry="6.3" fill="#4aab2a" transform="rotate(426 2377.8 655.8)"/><ellipse cx="2366.1" cy="655.2" rx="8.8" ry="6.3" fill="#4fb02c" transform="rotate(445 2366.1 655.2)"/><ellipse cx="2340.3" cy="641.2" rx="7.8" ry="5.5" fill="#4aab2a" transform="rotate(501 2340.3 641.2)"/><ellipse cx="2334.3" cy="627.1" rx="7.6" ry="5.4" fill="#4fb02c" transform="rotate(531 2334.3 627.1)"/><ellipse cx="2326.5" cy="612.6" rx="8.4" ry="5.9" fill="#56b630" transform="rotate(555 2326.5 612.6)"/><ellipse cx="2354.5" cy="626.9" rx="5.5" ry="4.1" fill="#41a026" transform="rotate(152 2354.5 626.9)"/><ellipse cx="2363.2" cy="629.7" rx="6.3" ry="4.7" fill="#41a026" transform="rotate(88 2363.2 629.7)"/><ellipse cx="2364.5" cy="616.5" rx="7.0" ry="5.2" fill="#4fb02c" transform="rotate(284 2364.5 616.5)"/><ellipse cx="2352.2" cy="625.2" rx="6.0" ry="4.4" fill="#38931f" transform="rotate(166 2352.2 625.2)"/>
</g>
</g>
<text x="1917.4" y="487.5" font-size="28.7" fill="#fff" textLength="54.3" lengthAdjust="spacingAndGlyphs" >N. I.</text>
<text x="2221.0" y="487.5" font-size="28.7" fill="#fff" textLength="114.4" lengthAdjust="spacingAndGlyphs" >HK-PsJN</text>
<text x="1919.2" y="877.5" font-size="28.7" fill="#fff" textLength="63.8" lengthAdjust="spacingAndGlyphs" >PsJN</text>
<text x="2234.8" y="877.5" font-size="28.7" fill="#fff" textLength="73.6" lengthAdjust="spacingAndGlyphs" >GB03</text>
<path d="M652.65 1850.2V1501.4H712.15V1850.2" fill="#fff" stroke="#000" stroke-width="2.9" stroke-linejoin="miter"/>
<path d="M712.15 1850.2V1308.9H771.65V1850.2" fill="#000" stroke="#000" stroke-width="2.9" stroke-linejoin="miter"/>
<path d="M771.65 1850.2V1260.0H831.15V1850.2" fill="#808080" stroke="#000" stroke-width="2.9" stroke-linejoin="miter"/>
<path d="M831.15 1850.2V1712.0H890.65V1850.2" fill="#f2f2f2" stroke="#000" stroke-width="2.9" stroke-linejoin="miter"/>
<path d="M890.65 1850.2V1540.7H950.15V1850.2" fill="#a6a6a6" stroke="#000" stroke-width="2.9" stroke-linejoin="miter"/>
<line x1="683.1" y1="1440.3" x2="683.1" y2="1559.8" stroke="#0c0c0c" stroke-width="2.7" />
<line x1="676.6" y1="1440.3" x2="689.6" y2="1440.3" stroke="#0c0c0c" stroke-width="2.4" stroke-linecap="round"/>
<line x1="676.6" y1="1559.8" x2="689.6" y2="1559.8" stroke="#0c0c0c" stroke-width="2.4" stroke-linecap="round"/>
<line x1="743.1" y1="1245.9" x2="743.1" y2="1307.4" stroke="#0a0a0a" stroke-width="2.7" />
<line x1="736.6" y1="1245.9" x2="749.6" y2="1245.9" stroke="#0a0a0a" stroke-width="2.4" stroke-linecap="round"/>
<line x1="803.4" y1="1186.4" x2="803.4" y2="1336.1" stroke="#0c0c0c" stroke-width="2.7" />
<line x1="796.9" y1="1186.4" x2="809.9" y2="1186.4" stroke="#0c0c0c" stroke-width="2.4" stroke-linecap="round"/>
<line x1="796.9" y1="1336.1" x2="809.9" y2="1336.1" stroke="#0c0c0c" stroke-width="2.4" stroke-linecap="round"/>
<line x1="862.2" y1="1617.1" x2="862.2" y2="1806.2" stroke="#0c0c0c" stroke-width="2.7" />
<line x1="855.7" y1="1617.1" x2="868.7" y2="1617.1" stroke="#0c0c0c" stroke-width="2.4" stroke-linecap="round"/>
<line x1="855.7" y1="1806.2" x2="868.7" y2="1806.2" stroke="#0c0c0c" stroke-width="2.4" stroke-linecap="round"/>
<line x1="922.3" y1="1443.0" x2="922.3" y2="1635.2" stroke="#0c0c0c" stroke-width="2.7" />
<line x1="915.8" y1="1443.0" x2="928.8" y2="1443.0" stroke="#0c0c0c" stroke-width="2.4" stroke-linecap="round"/>
<line x1="915.8" y1="1635.2" x2="928.8" y2="1635.2" stroke="#0c0c0c" stroke-width="2.4" stroke-linecap="round"/>
<path d="M1039.20 1850.2V1501.4H1098.54V1850.2" fill="#fff" stroke="#000" stroke-width="2.9" stroke-linejoin="miter"/>
<path d="M1098.54 1850.2V1347.7H1157.88V1850.2" fill="#000" stroke="#000" stroke-width="2.9" stroke-linejoin="miter"/>
<path d="M1157.88 1850.2V1219.0H1217.22V1850.2" fill="#808080" stroke="#000" stroke-width="2.9" stroke-linejoin="miter"/>
<path d="M1217.22 1850.2V1324.9H1276.56V1850.2" fill="#f2f2f2" stroke="#000" stroke-width="2.9" stroke-linejoin="miter"/>
<path d="M1276.56 1850.2V1522.4H1335.90V1850.2" fill="#a6a6a6" stroke="#000" stroke-width="2.9" stroke-linejoin="miter"/>
<line x1="1070.6" y1="1458.6" x2="1070.6" y2="1541.8" stroke="#0c0c0c" stroke-width="2.7" />
<line x1="1064.1" y1="1458.6" x2="1077.1" y2="1458.6" stroke="#0c0c0c" stroke-width="2.4" stroke-linecap="round"/>
<line x1="1064.1" y1="1541.8" x2="1077.1" y2="1541.8" stroke="#0c0c0c" stroke-width="2.4" stroke-linecap="round"/>
<line x1="1129.8" y1="1300.2" x2="1129.8" y2="1346.2" stroke="#0a0a0a" stroke-width="2.7" />
<line x1="1123.3" y1="1300.2" x2="1136.3" y2="1300.2" stroke="#0a0a0a" stroke-width="2.4" stroke-linecap="round"/>
<line x1="1190.2" y1="1163.0" x2="1190.2" y2="1274.5" stroke="#0c0c0c" stroke-width="2.7" />
<line x1="1183.7" y1="1163.0" x2="1196.7" y2="1163.0" stroke="#0c0c0c" stroke-width="2.4" stroke-linecap="round"/>
<line x1="1183.7" y1="1274.5" x2="1196.7" y2="1274.5" stroke="#0c0c0c" stroke-width="2.4" stroke-linecap="round"/>
<line x1="1247.5" y1="1280.0" x2="1247.5" y2="1370.1" stroke="#0c0c0c" stroke-width="2.7" />
<line x1="1241.0" y1="1280.0" x2="1254.0" y2="1280.0" stroke="#0c0c0c" stroke-width="2.4" stroke-linecap="round"/>
<line x1="1241.0" y1="1370.1" x2="1254.0" y2="1370.1" stroke="#0c0c0c" stroke-width="2.4" stroke-linecap="round"/>
<line x1="1307.1" y1="1476.9" x2="1307.1" y2="1567.0" stroke="#0c0c0c" stroke-width="2.7" />
<line x1="1300.6" y1="1476.9" x2="1313.6" y2="1476.9" stroke="#0c0c0c" stroke-width="2.4" stroke-linecap="round"/>
<line x1="1300.6" y1="1567.0" x2="1313.6" y2="1567.0" stroke="#0c0c0c" stroke-width="2.4" stroke-linecap="round"/>
<path d="M1425.90 1850.2V1501.4H1485.27V1850.2" fill="#fff" stroke="#000" stroke-width="2.9" stroke-linejoin="miter"/>
<path d="M1485.27 1850.2V1225.5H1544.64V1850.2" fill="#000" stroke="#000" stroke-width="2.9" stroke-linejoin="miter"/>
<path d="M1544.64 1850.2V1180.4H1604.01V1850.2" fill="#808080" stroke="#000" stroke-width="2.9" stroke-linejoin="miter"/>
<path d="M1604.01 1850.2V1247.2H1663.38V1850.2" fill="#f2f2f2" stroke="#000" stroke-width="2.9" stroke-linejoin="miter"/>
<path d="M1663.38 1850.2V1527.9H1722.75V1850.2" fill="#a6a6a6" stroke="#000" stroke-width="2.9" stroke-linejoin="miter"/>
<line x1="1456.1" y1="1461.1" x2="1456.1" y2="1539.3" stroke="#0c0c0c" stroke-width="2.7" />
<line x1="1449.6" y1="1461.1" x2="1462.6" y2="1461.1" stroke="#0c0c0c" stroke-width="2.4" stroke-linecap="round"/>
<line x1="1449.6" y1="1539.3" x2="1462.6" y2="1539.3" stroke="#0c0c0c" stroke-width="2.4" stroke-linecap="round"/>
<line x1="1515.7" y1="1152.4" x2="1515.7" y2="1224.1" stroke="#0a0a0a" stroke-width="2.7" />
<line x1="1509.2" y1="1152.4" x2="1522.2" y2="1152.4" stroke="#0a0a0a" stroke-width="2.4" stroke-linecap="round"/>
<line x1="1575.6" y1="1096.1" x2="1575.6" y2="1264.6" stroke="#0c0c0c" stroke-width="2.7" />
<line x1="1569.1" y1="1096.1" x2="1582.1" y2="1096.1" stroke="#0c0c0c" stroke-width="2.4" stroke-linecap="round"/>
<line x1="1569.1" y1="1264.6" x2="1582.1" y2="1264.6" stroke="#0c0c0c" stroke-width="2.4" stroke-linecap="round"/>
<line x1="1635.2" y1="1181.4" x2="1635.2" y2="1313.1" stroke="#0c0c0c" stroke-width="2.7" />
<line x1="1628.7" y1="1181.4" x2="1641.7" y2="1181.4" stroke="#0c0c0c" stroke-width="2.4" stroke-linecap="round"/>
<line x1="1628.7" y1="1313.1" x2="1641.7" y2="1313.1" stroke="#0c0c0c" stroke-width="2.4" stroke-linecap="round"/>
<line x1="1695.2" y1="1461.1" x2="1695.2" y2="1595.9" stroke="#0c0c0c" stroke-width="2.7" />
<line x1="1688.7" y1="1461.1" x2="1701.7" y2="1461.1" stroke="#0c0c0c" stroke-width="2.4" stroke-linecap="round"/>
<line x1="1688.7" y1="1595.9" x2="1701.7" y2="1595.9" stroke="#0c0c0c" stroke-width="2.4" stroke-linecap="round"/>
<line x1="608.0" y1="1077.5" x2="608.0" y2="1862.7" stroke="#868686" stroke-width="2" />
<line x1="595.0" y1="1850.2" x2="1767.6" y2="1850.2" stroke="#868686" stroke-width="2" />
<line x1="595.0" y1="1709.6" x2="608.0" y2="1709.6" stroke="#868686" stroke-width="2" />
<line x1="595.0" y1="1568.9" x2="608.0" y2="1568.9" stroke="#868686" stroke-width="2" />
<line x1="595.0" y1="1428.3" x2="608.0" y2="1428.3" stroke="#868686" stroke-width="2" />
<line x1="595.0" y1="1287.6" x2="608.0" y2="1287.6" stroke="#868686" stroke-width="2" />
<line x1="595.0" y1="1147.0" x2="608.0" y2="1147.0" stroke="#868686" stroke-width="2" />
<line x1="994.8" y1="1850.2" x2="994.8" y2="1862.7" stroke="#868686" stroke-width="2" />
<line x1="1380.2" y1="1850.2" x2="1380.2" y2="1862.7" stroke="#868686" stroke-width="2" />
<line x1="1767.6" y1="1850.2" x2="1767.6" y2="1862.7" stroke="#868686" stroke-width="2" />
<text x="548.6" y="1863.4" font-size="36.3" textLength="20.9" lengthAdjust="spacingAndGlyphs" >0</text>
<text x="527.7" y="1722.8" font-size="36.3" textLength="41.7" lengthAdjust="spacingAndGlyphs" >40</text>
<text x="527.7" y="1582.1" font-size="36.3" textLength="41.7" lengthAdjust="spacingAndGlyphs" >80</text>
<text x="506.8" y="1441.5" font-size="36.3" textLength="62.6" lengthAdjust="spacingAndGlyphs" >120</text>
<text x="506.8" y="1300.8" font-size="36.3" textLength="62.6" lengthAdjust="spacingAndGlyphs" >160</text>
<text x="506.8" y="1160.2" font-size="36.3" textLength="62.6" lengthAdjust="spacingAndGlyphs" >200</text>
<text x="674.2" y="1386.6" font-size="38.6" textLength="18.8" lengthAdjust="spacingAndGlyphs" >a</text>
<text x="734.8" y="1209.5" font-size="38.6" textLength="22.9" lengthAdjust="spacingAndGlyphs" >b</text>
<text x="794.9" y="1140.3" font-size="38.6" textLength="23.1" lengthAdjust="spacingAndGlyphs" >b</text>
<text x="854.1" y="1559.3" font-size="38.6" textLength="19.3" lengthAdjust="spacingAndGlyphs" >c</text>
<text x="915.6" y="1398.5" font-size="38.6" textLength="18.9" lengthAdjust="spacingAndGlyphs" >a</text>
<text x="1059.2" y="1403.2" font-size="38.6" textLength="19.8" lengthAdjust="spacingAndGlyphs" >a</text>
<text x="1116.9" y="1250.6" font-size="38.6" textLength="22.8" lengthAdjust="spacingAndGlyphs" >b</text>
<text x="1177.4" y="1117.4" font-size="38.6" textLength="24.4" lengthAdjust="spacingAndGlyphs" >b</text>
<text x="1240.0" y="1221.9" font-size="38.6" textLength="24.4" lengthAdjust="spacingAndGlyphs" >b</text>
<text x="1295.7" y="1415.0" font-size="38.6" textLength="19.9" lengthAdjust="spacingAndGlyphs" >a</text>
<text x="1446.5" y="1396.6" font-size="38.6" textLength="19.9" lengthAdjust="spacingAndGlyphs" >a</text>
<text x="1506.7" y="1099.8" font-size="38.6" textLength="23.7" lengthAdjust="spacingAndGlyphs" >b</text>
<text x="1568.1" y="1028.0" font-size="38.6" textLength="23.9" lengthAdjust="spacingAndGlyphs" >b</text>
<text x="1631.7" y="1121.1" font-size="38.6" textLength="24.0" lengthAdjust="spacingAndGlyphs" >b</text>
<text x="1685.6" y="1399.5" font-size="38.6" textLength="19.9" lengthAdjust="spacingAndGlyphs" >a</text>
<text font-size="36.6"><tspan x="631.08" y="1919.2" textLength="135.21" lengthAdjust="spacingAndGlyphs">Primary</tspan> <tspan x="774.40" y="1919.2" textLength="77.37" lengthAdjust="spacingAndGlyphs">Root</tspan> <tspan x="860.32" y="1919.2" textLength="114.80" lengthAdjust="spacingAndGlyphs">Length</tspan></text>
<text font-size="36.6"><tspan x="1040.97" y="1919.2" textLength="127.47" lengthAdjust="spacingAndGlyphs">Rosette</tspan> <tspan x="1177.19" y="1919.2" textLength="158.82" lengthAdjust="spacingAndGlyphs">Diameter</tspan></text>
<text font-size="36.6"><tspan x="1467.28" y="1919.2" textLength="90.90" lengthAdjust="spacingAndGlyphs">Fresh</tspan> <tspan x="1566.35" y="1919.2" textLength="119.13" lengthAdjust="spacingAndGlyphs">Weight</tspan></text>
<text font-size="47.5" transform="translate(441.3 1740.0) rotate(-90)"><tspan x="4.31" y="0" textLength="37.78" lengthAdjust="spacingAndGlyphs">%</tspan> <tspan x="51.39" y="0" textLength="161.91" lengthAdjust="spacingAndGlyphs">relative</tspan> <tspan x="223.00" y="0" textLength="44.38" lengthAdjust="spacingAndGlyphs">to</tspan> <tspan x="282.50" y="0" textLength="43.89" lengthAdjust="spacingAndGlyphs">N.</tspan> <tspan x="340.64" y="0" textLength="26.96" lengthAdjust="spacingAndGlyphs">I.</tspan> <tspan x="379.20" y="0" textLength="175.43" lengthAdjust="spacingAndGlyphs">controls</tspan></text>
<rect x="1824.8" y="1339.3" width="24.5" height="24.0" fill="#fff" stroke="#0a0a0a" stroke-width="2.3"/>
<text font-size="37.3"><tspan x="1861.08" y="1364.4" textLength="36.80" lengthAdjust="spacingAndGlyphs">NI</tspan></text>
<rect x="1824.8" y="1410.0" width="24.5" height="24.0" fill="#000" stroke="#0a0a0a" stroke-width="2.3"/>
<text font-size="37.3"><tspan x="1861.53" y="1435.1" textLength="74.92" lengthAdjust="spacingAndGlyphs">PsJN</tspan></text>
<rect x="1824.8" y="1480.8" width="24.5" height="24.0" fill="#808080" stroke="#0a0a0a" stroke-width="2.3"/>
<text font-size="37.3"><tspan x="1861.53" y="1505.9" textLength="74.92" lengthAdjust="spacingAndGlyphs">PsJN</tspan> <tspan x="1944.87" y="1505.9" textLength="89.34" lengthAdjust="spacingAndGlyphs">VOCs</tspan></text>
<rect x="1824.8" y="1551.4" width="24.5" height="24.0" fill="#f2f2f2" stroke="#0a0a0a" stroke-width="2.3"/>
<text font-size="37.3"><tspan x="1861.11" y="1576.5" textLength="58.96" lengthAdjust="spacingAndGlyphs">Sp7</tspan></text>
<rect x="1824.8" y="1622.1" width="24.5" height="24.0" fill="#a6a6a6" stroke="#0a0a0a" stroke-width="2.3"/>
<text font-size="37.3"><tspan x="1861.11" y="1647.2" textLength="58.96" lengthAdjust="spacingAndGlyphs">Sp7</tspan> <tspan x="1929.87" y="1647.2" textLength="89.85" lengthAdjust="spacingAndGlyphs">VOCs</tspan></text>
</svg>
</body>
</html>
